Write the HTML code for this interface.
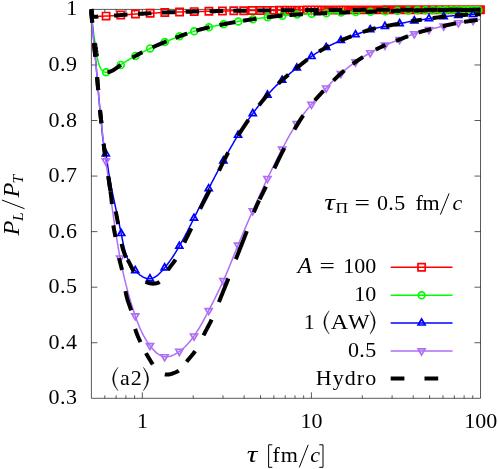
<!DOCTYPE html>
<html><head><meta charset="utf-8"><title>PL/PT</title>
<style>html,body{margin:0;padding:0;background:#fff;}body{width:498px;height:469px;overflow:hidden;font-family:"Liberation Serif",serif;}svg{display:block;will-change:transform;}</style>
</head><body>
<svg width="498" height="469" viewBox="0 0 498 469">
<rect x="0" y="0" width="498" height="469" fill="#fff"/>
<path d="M91.4,9.4H480.5V398.3H91.4ZM91.4,342.74h6M480.5,342.74h-6M91.4,287.19h6M480.5,287.19h-6M91.4,231.63h6M480.5,231.63h-6M91.4,176.07h6M480.5,176.07h-6M91.4,120.51h6M480.5,120.51h-6M91.4,64.96h6M480.5,64.96h-6M104.79,398.3v-3M104.79,9.4v3M116.11,398.3v-3M116.11,9.4v3M125.92,398.3v-3M125.92,9.4v3M134.57,398.3v-3M134.57,9.4v3M142.30,398.3v-6M142.30,9.4v6M193.21,398.3v-3M193.21,9.4v3M222.98,398.3v-3M222.98,9.4v3M244.11,398.3v-3M244.11,9.4v3M260.50,398.3v-3M260.50,9.4v3M273.89,398.3v-3M273.89,9.4v3M285.21,398.3v-3M285.21,9.4v3M295.01,398.3v-3M295.01,9.4v3M303.66,398.3v-3M303.66,9.4v3M311.40,398.3v-6M311.40,9.4v6M362.31,398.3v-3M362.31,9.4v3M392.08,398.3v-3M392.08,9.4v3M413.21,398.3v-3M413.21,9.4v3M429.60,398.3v-3M429.60,9.4v3M442.99,398.3v-3M442.99,9.4v3M454.31,398.3v-3M454.31,9.4v3M464.11,398.3v-3M464.11,9.4v3M472.76,398.3v-3M472.76,9.4v3" fill="none" stroke="#000" stroke-width="0.65"/>
<path d="M91.40,9.40 L91.61,10.05 L91.68,10.81 L91.66,11.64 L91.62,12.51 L91.60,13.39 L91.66,14.22 L91.85,14.99 L92.24,15.64 L92.83,16.16 L93.56,16.52 L94.32,16.73 L95.10,16.80 L95.90,16.77 L96.70,16.69 L97.51,16.57 L98.32,16.46 L99.12,16.37 L99.91,16.30 L100.71,16.24 L101.50,16.21 L102.29,16.18 L103.07,16.16 L103.86,16.14 L104.64,16.12 L105.43,16.10 L106.21,16.08 L107.00,16.05 L107.78,16.02 L108.57,15.98 L109.36,15.94 L110.15,15.89 L110.94,15.84 L111.73,15.78 L112.52,15.73 L113.31,15.67 L114.10,15.61 L114.89,15.54 L115.68,15.48 L116.47,15.41 L117.27,15.34 L118.06,15.28 L118.85,15.21 L119.64,15.15 L120.43,15.08 L121.22,15.02 L122.01,14.96 L122.80,14.90 L123.59,14.84 L124.38,14.78 L125.17,14.72 L125.96,14.67 L126.75,14.61 L127.54,14.56 L128.33,14.50 L129.12,14.45 L129.91,14.40 L130.70,14.35 L131.49,14.30 L132.28,14.25 L133.07,14.21 L133.86,14.16 L134.65,14.11 L135.44,14.07 L136.23,14.02 L137.02,13.98 L137.81,13.94 L138.60,13.89 L139.39,13.85 L140.18,13.81 L140.97,13.77 L141.76,13.73 L142.55,13.68 L143.34,13.64 L144.13,13.60 L144.92,13.56 L145.71,13.52 L146.50,13.47 L147.29,13.43 L148.08,13.39 L148.87,13.35 L149.66,13.30 L150.45,13.26 L151.24,13.21 L152.03,13.17 L152.83,13.12 L153.62,13.08 L154.41,13.03 L155.20,12.99 L155.99,12.94 L156.78,12.90 L157.57,12.86 L158.36,12.81 L159.15,12.77 L159.94,12.73 L160.73,12.68 L161.52,12.64 L162.31,12.60 L163.10,12.57 L163.89,12.53 L164.68,12.49 L165.47,12.46 L166.26,12.42 L167.05,12.39 L167.85,12.36 L168.64,12.33 L169.43,12.30 L170.22,12.27 L171.01,12.25 L171.80,12.22 L172.59,12.19 L173.38,12.17 L174.17,12.14 L174.97,12.12 L175.76,12.09 L176.55,12.07 L177.34,12.05 L178.13,12.03 L178.92,12.00 L179.71,11.98 L180.50,11.96 L181.30,11.93 L182.09,11.91 L182.88,11.89 L183.67,11.87 L184.46,11.84 L185.25,11.82 L186.04,11.80 L186.83,11.78 L187.63,11.76 L188.42,11.74 L189.21,11.71 L190.00,11.69 L190.79,11.67 L191.58,11.65 L192.37,11.63 L193.17,11.62 L193.96,11.60 L194.75,11.58 L195.54,11.56 L196.33,11.54 L197.12,11.53 L197.91,11.51 L198.71,11.49 L199.50,11.48 L200.29,11.46 L201.08,11.44 L201.87,11.43 L202.66,11.41 L203.45,11.39 L204.25,11.38 L205.04,11.36 L205.83,11.35 L206.62,11.33 L207.41,11.31 L208.20,11.30 L208.99,11.28 L209.79,11.26 L210.58,11.25 L211.37,11.23 L212.16,11.21 L212.95,11.20 L213.74,11.18 L214.53,11.16 L215.32,11.14 L216.12,11.13 L216.91,11.11 L217.70,11.09 L218.49,11.08 L219.28,11.06 L220.07,11.04 L220.86,11.03 L221.66,11.01 L222.45,11.00 L223.24,10.98 L224.03,10.97 L224.82,10.95 L225.61,10.94 L226.40,10.92 L227.20,10.91 L227.99,10.90 L228.78,10.88 L229.57,10.87 L230.36,10.86 L231.15,10.84 L231.95,10.83 L232.74,10.82 L233.53,10.81 L234.32,10.80 L235.11,10.79 L235.90,10.78 L236.69,10.76 L237.49,10.75 L238.28,10.74 L239.07,10.73 L239.86,10.72 L240.65,10.71 L241.44,10.70 L242.24,10.69 L243.03,10.68 L243.82,10.67 L244.61,10.66 L245.40,10.65 L246.19,10.64 L246.98,10.64 L247.78,10.63 L248.57,10.62 L249.36,10.61 L250.15,10.60 L250.94,10.59 L251.73,10.58 L252.53,10.57 L253.32,10.56 L254.11,10.55 L254.90,10.54 L255.69,10.53 L256.48,10.52 L257.27,10.52 L258.07,10.51 L258.86,10.50 L259.65,10.49 L260.44,10.48 L261.23,10.47 L262.02,10.46 L262.82,10.45 L263.61,10.44 L264.40,10.43 L265.19,10.43 L265.98,10.42 L266.77,10.41 L267.56,10.40 L268.36,10.39 L269.15,10.38 L269.94,10.37 L270.73,10.37 L271.52,10.36 L272.31,10.35 L273.11,10.34 L273.90,10.33 L274.69,10.32 L275.48,10.32 L276.27,10.31 L277.06,10.30 L277.85,10.29 L278.65,10.28 L279.44,10.28 L280.23,10.27 L281.02,10.26 L281.81,10.25 L282.60,10.24 L283.40,10.24 L284.19,10.23 L284.98,10.22 L285.77,10.22 L286.56,10.21 L287.35,10.20 L288.14,10.19 L288.94,10.19 L289.73,10.18 L290.52,10.17 L291.31,10.17 L292.10,10.16 L292.89,10.15 L293.69,10.15 L294.48,10.14 L295.27,10.13 L296.06,10.13 L296.85,10.12 L297.64,10.12 L298.43,10.11 L299.23,10.11 L300.02,10.10 L300.81,10.09 L301.60,10.09 L302.39,10.08 L303.18,10.08 L303.98,10.07 L304.77,10.07 L305.56,10.06 L306.35,10.06 L307.14,10.05 L307.93,10.05 L308.73,10.05 L309.52,10.04 L310.31,10.04 L311.10,10.03 L311.89,10.03 L312.68,10.02 L313.47,10.02 L314.27,10.02 L315.06,10.01 L315.85,10.01 L316.64,10.01 L317.43,10.00 L318.22,10.00 L319.02,9.99 L319.81,9.99 L320.60,9.99 L321.39,9.98 L322.18,9.98 L322.97,9.98 L323.77,9.98 L324.56,9.97 L325.35,9.97 L326.14,9.97 L326.93,9.96 L327.72,9.96 L328.51,9.96 L329.31,9.96 L330.10,9.95 L330.89,9.95 L331.68,9.95 L332.47,9.95 L333.26,9.94 L334.06,9.94 L334.85,9.94 L335.64,9.94 L336.43,9.93 L337.22,9.93 L338.01,9.93 L338.81,9.93 L339.60,9.93 L340.39,9.92 L341.18,9.92 L341.97,9.92 L342.76,9.92 L343.56,9.92 L344.35,9.91 L345.14,9.91 L345.93,9.91 L346.72,9.91 L347.51,9.91 L348.30,9.90 L349.10,9.90 L349.89,9.90 L350.68,9.90 L351.47,9.90 L352.26,9.89 L353.05,9.89 L353.85,9.89 L354.64,9.89 L355.43,9.89 L356.22,9.89 L357.01,9.88 L357.80,9.88 L358.60,9.88 L359.39,9.88 L360.18,9.88 L360.97,9.88 L361.76,9.87 L362.55,9.87 L363.34,9.87 L364.14,9.87 L364.93,9.87 L365.72,9.87 L366.51,9.86 L367.30,9.86 L368.09,9.86 L368.89,9.86 L369.68,9.86 L370.47,9.86 L371.26,9.85 L372.05,9.85 L372.84,9.85 L373.64,9.85 L374.43,9.85 L375.22,9.85 L376.01,9.84 L376.80,9.84 L377.59,9.84 L378.39,9.84 L379.18,9.84 L379.97,9.84 L380.76,9.83 L381.55,9.83 L382.34,9.83 L383.13,9.83 L383.93,9.83 L384.72,9.83 L385.51,9.83 L386.30,9.82 L387.09,9.82 L387.88,9.82 L388.68,9.82 L389.47,9.82 L390.26,9.82 L391.05,9.82 L391.84,9.81 L392.63,9.81 L393.43,9.81 L394.22,9.81 L395.01,9.81 L395.80,9.81 L396.59,9.81 L397.38,9.80 L398.17,9.80 L398.97,9.80 L399.76,9.80 L400.55,9.80 L401.34,9.80 L402.13,9.80 L402.92,9.80 L403.72,9.79 L404.51,9.79 L405.30,9.79 L406.09,9.79 L406.88,9.79 L407.67,9.79 L408.47,9.79 L409.26,9.78 L410.05,9.78 L410.84,9.78 L411.63,9.78 L412.42,9.78 L413.21,9.78 L414.01,9.78 L414.80,9.78 L415.59,9.78 L416.38,9.77 L417.17,9.77 L417.96,9.77 L418.76,9.77 L419.55,9.77 L420.34,9.77 L421.13,9.77 L421.92,9.77 L422.71,9.76 L423.51,9.76 L424.30,9.76 L425.09,9.76 L425.88,9.76 L426.67,9.76 L427.46,9.76 L428.26,9.76 L429.05,9.76 L429.84,9.75 L430.63,9.75 L431.42,9.75 L432.21,9.75 L433.00,9.75 L433.80,9.75 L434.59,9.75 L435.38,9.75 L436.17,9.75 L436.96,9.75 L437.75,9.74 L438.55,9.74 L439.34,9.74 L440.13,9.74 L440.92,9.74 L441.71,9.74 L442.50,9.74 L443.30,9.74 L444.09,9.74 L444.88,9.74 L445.67,9.73 L446.46,9.73 L447.25,9.73 L448.04,9.73 L448.84,9.73 L449.63,9.73 L450.42,9.73 L451.21,9.73 L452.00,9.73 L452.79,9.73 L453.59,9.73 L454.38,9.73 L455.17,9.72 L455.96,9.72 L456.75,9.72 L457.54,9.72 L458.34,9.72 L459.13,9.72 L459.92,9.72 L460.71,9.72 L461.50,9.72 L462.29,9.72 L463.08,9.72 L463.88,9.72 L464.67,9.71 L465.46,9.71 L466.25,9.71 L467.04,9.71 L467.83,9.71 L468.63,9.71 L469.42,9.71 L470.21,9.71 L471.00,9.71 L471.79,9.71 L472.58,9.71 L473.38,9.71 L474.17,9.71 L474.96,9.70 L475.75,9.70 L476.54,9.70 L477.33,9.70 L478.13,9.70 L478.92,9.70 L479.71,9.70 L480.50,9.70" fill="none" stroke="#ff0000" stroke-width="1.5"/>
<path d="M102.49,12.49h7.2v7.2h-7.2zM117.18,11.45h7.2v7.2h-7.2zM131.86,10.47h7.2v7.2h-7.2zM146.55,9.67h7.2v7.2h-7.2zM161.24,8.88h7.2v7.2h-7.2zM175.93,8.38h7.2v7.2h-7.2zM190.61,7.99h7.2v7.2h-7.2zM205.30,7.68h7.2v7.2h-7.2zM218.81,7.40h7.2v7.2h-7.2zM230.21,7.21h7.2v7.2h-7.2zM240.08,7.08h7.2v7.2h-7.2zM248.78,6.97h7.2v7.2h-7.2zM256.55,6.88h7.2v7.2h-7.2zM263.58,6.80h7.2v7.2h-7.2zM270.00,6.74h7.2v7.2h-7.2zM275.90,6.68h7.2v7.2h-7.2zM281.36,6.62h7.2v7.2h-7.2zM286.44,6.58h7.2v7.2h-7.2zM291.20,6.54h7.2v7.2h-7.2zM295.66,6.51h7.2v7.2h-7.2zM299.87,6.48h7.2v7.2h-7.2zM303.85,6.45h7.2v7.2h-7.2zM307.63,6.43h7.2v7.2h-7.2zM311.22,6.41h7.2v7.2h-7.2zM314.64,6.40h7.2v7.2h-7.2zM317.92,6.38h7.2v7.2h-7.2zM321.05,6.37h7.2v7.2h-7.2zM324.05,6.36h7.2v7.2h-7.2zM326.94,6.35h7.2v7.2h-7.2zM329.71,6.34h7.2v7.2h-7.2zM332.39,6.34h7.2v7.2h-7.2zM334.97,6.33h7.2v7.2h-7.2zM337.46,6.32h7.2v7.2h-7.2zM339.88,6.32h7.2v7.2h-7.2zM342.21,6.31h7.2v7.2h-7.2zM344.47,6.30h7.2v7.2h-7.2zM346.67,6.30h7.2v7.2h-7.2zM348.80,6.29h7.2v7.2h-7.2zM350.87,6.29h7.2v7.2h-7.2zM352.89,6.29h7.2v7.2h-7.2zM354.85,6.28h7.2v7.2h-7.2zM356.76,6.28h7.2v7.2h-7.2zM358.62,6.27h7.2v7.2h-7.2zM360.43,6.27h7.2v7.2h-7.2zM362.21,6.26h7.2v7.2h-7.2zM363.94,6.26h7.2v7.2h-7.2zM365.63,6.26h7.2v7.2h-7.2zM367.28,6.25h7.2v7.2h-7.2zM368.89,6.25h7.2v7.2h-7.2zM370.48,6.25h7.2v7.2h-7.2zM372.02,6.24h7.2v7.2h-7.2zM373.54,6.24h7.2v7.2h-7.2zM375.02,6.24h7.2v7.2h-7.2zM376.48,6.24h7.2v7.2h-7.2zM377.91,6.23h7.2v7.2h-7.2zM379.31,6.23h7.2v7.2h-7.2zM380.68,6.23h7.2v7.2h-7.2zM382.03,6.23h7.2v7.2h-7.2zM383.35,6.22h7.2v7.2h-7.2zM384.65,6.22h7.2v7.2h-7.2zM385.93,6.22h7.2v7.2h-7.2zM387.19,6.22h7.2v7.2h-7.2zM388.42,6.21h7.2v7.2h-7.2zM389.64,6.21h7.2v7.2h-7.2zM390.83,6.21h7.2v7.2h-7.2zM392.01,6.21h7.2v7.2h-7.2zM393.17,6.21h7.2v7.2h-7.2zM394.31,6.20h7.2v7.2h-7.2zM395.43,6.20h7.2v7.2h-7.2zM396.53,6.20h7.2v7.2h-7.2zM397.62,6.20h7.2v7.2h-7.2zM398.70,6.20h7.2v7.2h-7.2zM399.75,6.19h7.2v7.2h-7.2zM400.80,6.19h7.2v7.2h-7.2zM401.82,6.19h7.2v7.2h-7.2zM402.84,6.19h7.2v7.2h-7.2zM403.84,6.19h7.2v7.2h-7.2zM404.82,6.19h7.2v7.2h-7.2zM405.80,6.18h7.2v7.2h-7.2zM406.76,6.18h7.2v7.2h-7.2zM407.71,6.18h7.2v7.2h-7.2zM408.64,6.18h7.2v7.2h-7.2zM409.57,6.18h7.2v7.2h-7.2zM410.48,6.18h7.2v7.2h-7.2zM411.38,6.18h7.2v7.2h-7.2zM412.27,6.17h7.2v7.2h-7.2zM413.15,6.17h7.2v7.2h-7.2zM414.02,6.17h7.2v7.2h-7.2zM414.88,6.17h7.2v7.2h-7.2zM415.73,6.17h7.2v7.2h-7.2zM416.57,6.17h7.2v7.2h-7.2zM417.40,6.17h7.2v7.2h-7.2zM418.22,6.17h7.2v7.2h-7.2zM419.03,6.16h7.2v7.2h-7.2zM419.84,6.16h7.2v7.2h-7.2zM420.63,6.16h7.2v7.2h-7.2zM421.42,6.16h7.2v7.2h-7.2zM422.19,6.16h7.2v7.2h-7.2zM422.96,6.16h7.2v7.2h-7.2zM423.72,6.16h7.2v7.2h-7.2zM424.48,6.16h7.2v7.2h-7.2zM425.22,6.16h7.2v7.2h-7.2zM425.96,6.16h7.2v7.2h-7.2zM426.69,6.15h7.2v7.2h-7.2zM427.42,6.15h7.2v7.2h-7.2zM428.13,6.15h7.2v7.2h-7.2zM428.84,6.15h7.2v7.2h-7.2zM429.55,6.15h7.2v7.2h-7.2zM430.24,6.15h7.2v7.2h-7.2zM430.93,6.15h7.2v7.2h-7.2zM431.62,6.15h7.2v7.2h-7.2zM432.29,6.15h7.2v7.2h-7.2zM432.96,6.15h7.2v7.2h-7.2zM433.63,6.15h7.2v7.2h-7.2zM434.29,6.14h7.2v7.2h-7.2zM434.94,6.14h7.2v7.2h-7.2zM435.59,6.14h7.2v7.2h-7.2zM436.23,6.14h7.2v7.2h-7.2zM436.87,6.14h7.2v7.2h-7.2zM437.50,6.14h7.2v7.2h-7.2zM438.12,6.14h7.2v7.2h-7.2zM438.74,6.14h7.2v7.2h-7.2zM439.36,6.14h7.2v7.2h-7.2zM439.97,6.14h7.2v7.2h-7.2zM440.57,6.14h7.2v7.2h-7.2zM441.17,6.14h7.2v7.2h-7.2zM441.77,6.14h7.2v7.2h-7.2zM442.36,6.13h7.2v7.2h-7.2zM442.94,6.13h7.2v7.2h-7.2zM443.52,6.13h7.2v7.2h-7.2zM444.10,6.13h7.2v7.2h-7.2zM444.67,6.13h7.2v7.2h-7.2zM445.24,6.13h7.2v7.2h-7.2zM445.80,6.13h7.2v7.2h-7.2zM446.36,6.13h7.2v7.2h-7.2zM446.91,6.13h7.2v7.2h-7.2zM447.46,6.13h7.2v7.2h-7.2zM448.01,6.13h7.2v7.2h-7.2zM448.55,6.13h7.2v7.2h-7.2zM449.09,6.13h7.2v7.2h-7.2zM449.62,6.13h7.2v7.2h-7.2zM450.16,6.13h7.2v7.2h-7.2zM450.68,6.13h7.2v7.2h-7.2zM451.20,6.12h7.2v7.2h-7.2zM451.72,6.12h7.2v7.2h-7.2zM452.24,6.12h7.2v7.2h-7.2zM452.75,6.12h7.2v7.2h-7.2zM453.26,6.12h7.2v7.2h-7.2zM453.76,6.12h7.2v7.2h-7.2zM454.27,6.12h7.2v7.2h-7.2zM454.76,6.12h7.2v7.2h-7.2zM455.26,6.12h7.2v7.2h-7.2zM455.75,6.12h7.2v7.2h-7.2zM456.24,6.12h7.2v7.2h-7.2zM456.72,6.12h7.2v7.2h-7.2zM457.20,6.12h7.2v7.2h-7.2zM457.68,6.12h7.2v7.2h-7.2zM458.16,6.12h7.2v7.2h-7.2zM458.63,6.12h7.2v7.2h-7.2zM459.10,6.12h7.2v7.2h-7.2zM459.57,6.12h7.2v7.2h-7.2zM460.03,6.12h7.2v7.2h-7.2zM460.49,6.12h7.2v7.2h-7.2zM460.95,6.11h7.2v7.2h-7.2zM461.40,6.11h7.2v7.2h-7.2zM461.86,6.11h7.2v7.2h-7.2zM462.31,6.11h7.2v7.2h-7.2zM462.75,6.11h7.2v7.2h-7.2zM463.20,6.11h7.2v7.2h-7.2zM463.64,6.11h7.2v7.2h-7.2zM464.08,6.11h7.2v7.2h-7.2zM464.51,6.11h7.2v7.2h-7.2zM464.94,6.11h7.2v7.2h-7.2zM465.38,6.11h7.2v7.2h-7.2zM465.80,6.11h7.2v7.2h-7.2zM466.23,6.11h7.2v7.2h-7.2zM466.65,6.11h7.2v7.2h-7.2zM467.07,6.11h7.2v7.2h-7.2zM467.49,6.11h7.2v7.2h-7.2zM467.91,6.11h7.2v7.2h-7.2zM468.32,6.11h7.2v7.2h-7.2zM468.73,6.11h7.2v7.2h-7.2zM469.14,6.11h7.2v7.2h-7.2zM469.55,6.11h7.2v7.2h-7.2zM469.96,6.11h7.2v7.2h-7.2zM470.36,6.11h7.2v7.2h-7.2zM470.76,6.11h7.2v7.2h-7.2zM471.16,6.10h7.2v7.2h-7.2zM471.55,6.10h7.2v7.2h-7.2zM471.95,6.10h7.2v7.2h-7.2zM472.34,6.10h7.2v7.2h-7.2zM472.73,6.10h7.2v7.2h-7.2zM473.11,6.10h7.2v7.2h-7.2zM473.50,6.10h7.2v7.2h-7.2zM473.88,6.10h7.2v7.2h-7.2zM474.27,6.10h7.2v7.2h-7.2zM474.65,6.10h7.2v7.2h-7.2zM475.02,6.10h7.2v7.2h-7.2zM475.40,6.10h7.2v7.2h-7.2zM475.77,6.10h7.2v7.2h-7.2zM476.14,6.10h7.2v7.2h-7.2zM476.51,6.10h7.2v7.2h-7.2zM476.88,6.10h7.2v7.2h-7.2z" fill="none" stroke="#ff0000" stroke-width="1.7"/>
<path d="M91.40,9.40 L91.40,10.31 L91.41,11.22 L91.43,12.13 L91.46,13.03 L91.50,13.94 L91.54,14.84 L91.59,15.75 L91.65,16.65 L91.72,17.56 L91.79,18.46 L91.86,19.36 L91.95,20.26 L92.04,21.17 L92.13,22.07 L92.23,22.97 L92.33,23.87 L92.44,24.77 L92.55,25.66 L92.66,26.56 L92.78,27.46 L92.90,28.36 L93.02,29.26 L93.15,30.16 L93.28,31.05 L93.41,31.95 L93.54,32.85 L93.67,33.74 L93.80,34.64 L93.93,35.54 L94.06,36.43 L94.20,37.33 L94.33,38.22 L94.46,39.12 L94.59,40.02 L94.72,40.91 L94.85,41.81 L94.98,42.71 L95.11,43.60 L95.24,44.50 L95.37,45.40 L95.50,46.29 L95.63,47.19 L95.76,48.09 L95.88,48.99 L96.01,49.89 L96.14,50.78 L96.28,51.68 L96.41,52.58 L96.56,53.47 L96.70,54.36 L96.85,55.26 L97.01,56.15 L97.17,57.03 L97.34,57.92 L97.53,58.80 L97.72,59.69 L97.92,60.57 L98.14,61.44 L98.38,62.32 L98.63,63.19 L98.90,64.06 L99.19,64.93 L99.50,65.80 L99.83,66.66 L100.20,67.51 L100.61,68.33 L101.08,69.11 L101.60,69.85 L102.21,70.53 L102.90,71.13 L103.67,71.63 L104.50,71.99 L105.39,72.18 L106.29,72.24 L107.17,72.21 L108.04,72.11 L108.90,71.95 L109.76,71.71 L110.60,71.42 L111.43,71.08 L112.25,70.68 L113.07,70.25 L113.88,69.77 L114.68,69.27 L115.47,68.74 L116.27,68.19 L117.05,67.63 L117.83,67.05 L118.61,66.48 L119.38,65.90 L120.16,65.33 L120.93,64.77 L121.70,64.23 L122.47,63.70 L123.23,63.18 L124.00,62.67 L124.77,62.17 L125.53,61.67 L126.30,61.19 L127.06,60.72 L127.83,60.25 L128.60,59.79 L129.37,59.33 L130.14,58.88 L130.91,58.44 L131.68,58.00 L132.45,57.56 L133.23,57.12 L134.01,56.69 L134.79,56.26 L135.58,55.83 L136.37,55.40 L137.16,54.97 L137.95,54.54 L138.75,54.12 L139.54,53.69 L140.35,53.27 L141.15,52.85 L141.95,52.43 L142.76,52.01 L143.57,51.60 L144.38,51.19 L145.20,50.78 L146.01,50.38 L146.83,49.98 L147.65,49.58 L148.47,49.18 L149.29,48.79 L150.11,48.41 L150.94,48.02 L151.76,47.65 L152.59,47.27 L153.42,46.90 L154.24,46.53 L155.07,46.17 L155.90,45.80 L156.73,45.44 L157.57,45.09 L158.40,44.73 L159.23,44.38 L160.07,44.03 L160.90,43.68 L161.74,43.33 L162.58,42.99 L163.41,42.64 L164.25,42.30 L165.09,41.96 L165.93,41.62 L166.77,41.28 L167.61,40.94 L168.45,40.60 L169.29,40.26 L170.13,39.93 L170.97,39.59 L171.82,39.26 L172.66,38.93 L173.50,38.60 L174.35,38.27 L175.19,37.94 L176.04,37.62 L176.89,37.30 L177.73,36.98 L178.58,36.66 L179.43,36.34 L180.28,36.02 L181.13,35.71 L181.98,35.40 L182.84,35.09 L183.69,34.79 L184.54,34.48 L185.40,34.18 L186.25,33.88 L187.11,33.59 L187.97,33.30 L188.83,33.01 L189.69,32.72 L190.55,32.44 L191.41,32.16 L192.27,31.88 L193.14,31.61 L194.00,31.34 L194.87,31.07 L195.73,30.81 L196.60,30.55 L197.47,30.30 L198.34,30.04 L199.21,29.80 L200.09,29.55 L200.96,29.31 L201.84,29.08 L202.71,28.84 L203.59,28.61 L204.47,28.39 L205.34,28.16 L206.22,27.94 L207.10,27.73 L207.98,27.52 L208.87,27.31 L209.75,27.10 L210.63,26.90 L211.52,26.70 L212.40,26.51 L213.29,26.32 L214.17,26.13 L215.06,25.94 L215.95,25.75 L216.83,25.57 L217.72,25.39 L218.61,25.21 L219.50,25.03 L220.39,24.85 L221.28,24.68 L222.16,24.50 L223.05,24.33 L223.94,24.15 L224.83,23.98 L225.72,23.81 L226.61,23.64 L227.50,23.47 L228.39,23.30 L229.28,23.13 L230.17,22.96 L231.06,22.79 L231.95,22.63 L232.85,22.46 L233.74,22.30 L234.63,22.14 L235.52,21.98 L236.41,21.82 L237.30,21.67 L238.20,21.51 L239.09,21.36 L239.98,21.21 L240.88,21.06 L241.77,20.92 L242.67,20.77 L243.56,20.63 L244.46,20.49 L245.35,20.35 L246.25,20.21 L247.14,20.07 L248.04,19.93 L248.93,19.80 L249.83,19.66 L250.73,19.53 L251.62,19.40 L252.52,19.27 L253.42,19.14 L254.31,19.01 L255.21,18.88 L256.11,18.76 L257.00,18.63 L257.90,18.51 L258.80,18.38 L259.70,18.26 L260.60,18.14 L261.49,18.02 L262.39,17.90 L263.29,17.79 L264.19,17.67 L265.09,17.55 L265.99,17.44 L266.89,17.33 L267.78,17.22 L268.68,17.10 L269.58,17.00 L270.48,16.89 L271.38,16.78 L272.28,16.68 L273.18,16.57 L274.08,16.47 L274.98,16.37 L275.89,16.28 L276.79,16.18 L277.69,16.09 L278.59,16.00 L279.49,15.91 L280.39,15.82 L281.29,15.74 L282.20,15.66 L283.10,15.58 L284.00,15.50 L284.91,15.42 L285.81,15.35 L286.71,15.28 L287.62,15.21 L288.52,15.14 L289.42,15.08 L290.33,15.01 L291.23,14.95 L292.13,14.89 L293.04,14.83 L293.94,14.77 L294.85,14.71 L295.75,14.65 L296.65,14.59 L297.56,14.53 L298.46,14.48 L299.37,14.42 L300.27,14.36 L301.18,14.31 L302.08,14.26 L302.99,14.20 L303.89,14.15 L304.79,14.10 L305.70,14.05 L306.60,14.00 L307.51,13.95 L308.41,13.91 L309.32,13.86 L310.22,13.82 L311.13,13.78 L312.03,13.73 L312.94,13.69 L313.84,13.66 L314.75,13.62 L315.65,13.58 L316.56,13.55 L317.47,13.51 L318.37,13.48 L319.28,13.44 L320.18,13.41 L321.09,13.37 L321.99,13.34 L322.90,13.31 L323.80,13.27 L324.71,13.24 L325.61,13.20 L326.52,13.17 L327.42,13.13 L328.33,13.09 L329.24,13.06 L330.14,13.02 L331.05,12.98 L331.95,12.94 L332.86,12.91 L333.76,12.87 L334.67,12.83 L335.57,12.79 L336.48,12.76 L337.38,12.72 L338.29,12.68 L339.19,12.64 L340.10,12.61 L341.00,12.57 L341.91,12.54 L342.81,12.50 L343.72,12.47 L344.63,12.44 L345.53,12.40 L346.44,12.37 L347.34,12.34 L348.25,12.31 L349.15,12.28 L350.06,12.25 L350.96,12.22 L351.87,12.19 L352.78,12.16 L353.68,12.14 L354.59,12.11 L355.49,12.08 L356.40,12.06 L357.30,12.03 L358.21,12.01 L359.12,11.99 L360.02,11.96 L360.93,11.94 L361.83,11.92 L362.74,11.89 L363.64,11.87 L364.55,11.84 L365.46,11.82 L366.36,11.80 L367.27,11.77 L368.17,11.74 L369.08,11.72 L369.98,11.69 L370.89,11.66 L371.80,11.63 L372.70,11.61 L373.61,11.58 L374.51,11.54 L375.42,11.51 L376.32,11.48 L377.23,11.45 L378.13,11.42 L379.04,11.39 L379.94,11.35 L380.85,11.32 L381.76,11.29 L382.66,11.26 L383.57,11.23 L384.47,11.19 L385.38,11.16 L386.28,11.13 L387.19,11.10 L388.09,11.07 L389.00,11.04 L389.91,11.01 L390.81,10.98 L391.72,10.95 L392.62,10.93 L393.53,10.90 L394.43,10.87 L395.34,10.84 L396.24,10.82 L397.15,10.79 L398.06,10.77 L398.96,10.74 L399.87,10.72 L400.77,10.70 L401.68,10.67 L402.58,10.65 L403.49,10.63 L404.40,10.61 L405.30,10.58 L406.21,10.56 L407.11,10.54 L408.02,10.52 L408.93,10.50 L409.83,10.48 L410.74,10.47 L411.64,10.45 L412.55,10.43 L413.46,10.41 L414.36,10.40 L415.27,10.38 L416.17,10.36 L417.08,10.35 L417.98,10.33 L418.89,10.32 L419.80,10.30 L420.70,10.29 L421.61,10.28 L422.51,10.26 L423.42,10.25 L424.33,10.24 L425.23,10.22 L426.14,10.21 L427.04,10.20 L427.95,10.19 L428.86,10.18 L429.76,10.17 L430.67,10.16 L431.57,10.15 L432.48,10.14 L433.39,10.13 L434.29,10.12 L435.20,10.11 L436.10,10.10 L437.01,10.09 L437.92,10.08 L438.82,10.08 L439.73,10.07 L440.63,10.06 L441.54,10.06 L442.45,10.05 L443.35,10.04 L444.26,10.04 L445.16,10.03 L446.07,10.02 L446.98,10.02 L447.88,10.01 L448.79,10.01 L449.69,10.00 L450.60,10.00 L451.51,9.99 L452.41,9.99 L453.32,9.98 L454.22,9.98 L455.13,9.97 L456.04,9.97 L456.94,9.97 L457.85,9.96 L458.76,9.96 L459.66,9.96 L460.57,9.95 L461.47,9.95 L462.38,9.95 L463.29,9.94 L464.19,9.94 L465.10,9.94 L466.00,9.94 L466.91,9.93 L467.82,9.93 L468.72,9.93 L469.63,9.93 L470.53,9.92 L471.44,9.92 L472.35,9.92 L473.25,9.92 L474.16,9.91 L475.06,9.91 L475.97,9.91 L476.88,9.91 L477.78,9.91 L478.69,9.90 L479.59,9.90 L480.50,9.90" fill="none" stroke="#00ff00" stroke-width="1.5"/>
<circle cx="106.09" cy="72.22" r="3.4" fill="none" stroke="#00ff00" stroke-width="1.7"/>
<circle cx="120.78" cy="64.88" r="3.4" fill="none" stroke="#00ff00" stroke-width="1.7"/>
<circle cx="135.46" cy="55.89" r="3.4" fill="none" stroke="#00ff00" stroke-width="1.7"/>
<circle cx="150.15" cy="48.39" r="3.4" fill="none" stroke="#00ff00" stroke-width="1.7"/>
<circle cx="164.84" cy="42.06" r="3.4" fill="none" stroke="#00ff00" stroke-width="1.7"/>
<circle cx="179.53" cy="36.30" r="3.4" fill="none" stroke="#00ff00" stroke-width="1.7"/>
<circle cx="194.21" cy="31.27" r="3.4" fill="none" stroke="#00ff00" stroke-width="1.7"/>
<circle cx="208.90" cy="27.30" r="3.4" fill="none" stroke="#00ff00" stroke-width="1.7"/>
<circle cx="223.59" cy="24.22" r="3.4" fill="none" stroke="#00ff00" stroke-width="1.7"/>
<circle cx="238.28" cy="21.50" r="3.4" fill="none" stroke="#00ff00" stroke-width="1.7"/>
<circle cx="252.96" cy="19.20" r="3.4" fill="none" stroke="#00ff00" stroke-width="1.7"/>
<circle cx="267.65" cy="17.23" r="3.4" fill="none" stroke="#00ff00" stroke-width="1.7"/>
<circle cx="282.34" cy="15.64" r="3.4" fill="none" stroke="#00ff00" stroke-width="1.7"/>
<circle cx="297.03" cy="14.57" r="3.4" fill="none" stroke="#00ff00" stroke-width="1.7"/>
<circle cx="311.72" cy="13.75" r="3.4" fill="none" stroke="#00ff00" stroke-width="1.7"/>
<circle cx="326.40" cy="13.17" r="3.4" fill="none" stroke="#00ff00" stroke-width="1.7"/>
<circle cx="341.09" cy="12.57" r="3.4" fill="none" stroke="#00ff00" stroke-width="1.7"/>
<circle cx="355.78" cy="12.08" r="3.4" fill="none" stroke="#00ff00" stroke-width="1.7"/>
<circle cx="370.47" cy="11.68" r="3.4" fill="none" stroke="#00ff00" stroke-width="1.7"/>
<circle cx="385.15" cy="11.17" r="3.4" fill="none" stroke="#00ff00" stroke-width="1.7"/>
<circle cx="397.50" cy="10.78" r="3.4" fill="none" stroke="#00ff00" stroke-width="1.7"/>
<circle cx="408.07" cy="10.52" r="3.4" fill="none" stroke="#00ff00" stroke-width="1.7"/>
<circle cx="417.31" cy="10.34" r="3.4" fill="none" stroke="#00ff00" stroke-width="1.7"/>
<circle cx="425.52" cy="10.22" r="3.4" fill="none" stroke="#00ff00" stroke-width="1.7"/>
<circle cx="432.90" cy="10.13" r="3.4" fill="none" stroke="#00ff00" stroke-width="1.7"/>
<circle cx="439.60" cy="10.07" r="3.4" fill="none" stroke="#00ff00" stroke-width="1.7"/>
<circle cx="445.75" cy="10.03" r="3.4" fill="none" stroke="#00ff00" stroke-width="1.7"/>
<circle cx="451.42" cy="9.99" r="3.4" fill="none" stroke="#00ff00" stroke-width="1.7"/>
<circle cx="456.68" cy="9.97" r="3.4" fill="none" stroke="#00ff00" stroke-width="1.7"/>
<circle cx="461.59" cy="9.95" r="3.4" fill="none" stroke="#00ff00" stroke-width="1.7"/>
<circle cx="466.19" cy="9.94" r="3.4" fill="none" stroke="#00ff00" stroke-width="1.7"/>
<circle cx="470.52" cy="9.92" r="3.4" fill="none" stroke="#00ff00" stroke-width="1.7"/>
<circle cx="474.61" cy="9.91" r="3.4" fill="none" stroke="#00ff00" stroke-width="1.7"/>
<circle cx="478.49" cy="9.90" r="3.4" fill="none" stroke="#00ff00" stroke-width="1.7"/>
<path d="M91.40,9.40 L91.48,10.88 L91.56,12.35 L91.65,13.83 L91.74,15.30 L91.83,16.78 L91.92,18.26 L92.02,19.73 L92.13,21.21 L92.23,22.68 L92.34,24.15 L92.45,25.63 L92.57,27.10 L92.68,28.58 L92.80,30.05 L92.93,31.52 L93.05,33.00 L93.18,34.47 L93.31,35.94 L93.44,37.42 L93.57,38.89 L93.71,40.36 L93.84,41.83 L93.98,43.30 L94.12,44.78 L94.26,46.25 L94.41,47.72 L94.55,49.19 L94.69,50.66 L94.84,52.13 L94.98,53.61 L95.12,55.08 L95.26,56.55 L95.40,58.02 L95.54,59.49 L95.68,60.96 L95.81,62.44 L95.94,63.91 L96.07,65.38 L96.20,66.85 L96.33,68.33 L96.46,69.80 L96.59,71.27 L96.72,72.75 L96.85,74.22 L96.97,75.69 L97.10,77.16 L97.23,78.64 L97.36,80.11 L97.48,81.58 L97.61,83.06 L97.74,84.53 L97.86,86.00 L97.99,87.48 L98.11,88.95 L98.24,90.42 L98.36,91.90 L98.48,93.37 L98.60,94.84 L98.73,96.32 L98.85,97.79 L98.98,99.26 L99.11,100.74 L99.24,102.21 L99.38,103.68 L99.51,105.15 L99.66,106.62 L99.80,108.09 L99.95,109.57 L100.11,111.03 L100.27,112.50 L100.44,113.97 L100.60,115.44 L100.76,116.91 L100.93,118.38 L101.08,119.85 L101.24,121.32 L101.38,122.79 L101.52,124.27 L101.65,125.74 L101.77,127.22 L101.89,128.69 L102.01,130.17 L102.14,131.65 L102.27,133.12 L102.41,134.59 L102.57,136.06 L102.73,137.53 L102.92,139.00 L103.12,140.46 L103.34,141.92 L103.59,143.38 L103.86,144.83 L104.16,146.28 L104.47,147.72 L104.79,149.16 L105.12,150.61 L105.43,152.05 L105.74,153.50 L106.02,154.95 L106.29,156.40 L106.54,157.86 L106.77,159.32 L106.99,160.78 L107.21,162.24 L107.41,163.71 L107.62,165.17 L107.82,166.64 L108.03,168.10 L108.24,169.57 L108.45,171.03 L108.68,172.49 L108.91,173.95 L109.16,175.41 L109.40,176.87 L109.66,178.32 L109.92,179.78 L110.19,181.23 L110.46,182.69 L110.73,184.14 L111.02,185.59 L111.30,187.04 L111.59,188.49 L111.88,189.94 L112.18,191.39 L112.47,192.84 L112.77,194.29 L113.07,195.74 L113.38,197.18 L113.68,198.63 L113.99,200.08 L114.30,201.53 L114.60,202.97 L114.91,204.42 L115.23,205.86 L115.54,207.31 L115.85,208.75 L116.17,210.20 L116.48,211.64 L116.80,213.09 L117.11,214.53 L117.43,215.98 L117.74,217.42 L118.06,218.86 L118.38,220.31 L118.69,221.75 L119.01,223.19 L119.32,224.64 L119.64,226.08 L119.95,227.52 L120.26,228.97 L120.56,230.42 L120.87,231.86 L121.16,233.31 L121.45,234.77 L121.74,236.22 L122.02,237.68 L122.31,239.14 L122.60,240.60 L122.89,242.06 L123.20,243.51 L123.51,244.96 L123.84,246.41 L124.19,247.85 L124.56,249.29 L124.95,250.72 L125.36,252.14 L125.80,253.55 L126.28,254.95 L126.78,256.34 L127.33,257.72 L127.91,259.08 L128.53,260.44 L129.20,261.77 L129.91,263.09 L130.67,264.40 L131.49,265.69 L132.36,266.95 L133.29,268.20 L134.27,269.43 L135.32,270.64 L136.44,271.82 L137.61,272.96 L138.83,274.04 L140.09,275.06 L141.39,275.98 L142.71,276.80 L144.05,277.51 L145.41,278.07 L146.77,278.49 L148.12,278.74 L149.47,278.81 L150.80,278.69 L152.11,278.37 L153.40,277.88 L154.67,277.24 L155.91,276.47 L157.13,275.57 L158.32,274.57 L159.49,273.49 L160.63,272.34 L161.75,271.15 L162.83,269.92 L163.89,268.67 L164.91,267.43 L165.91,266.20 L166.88,264.97 L167.82,263.75 L168.73,262.53 L169.62,261.32 L170.49,260.11 L171.34,258.90 L172.17,257.70 L172.98,256.49 L173.78,255.28 L174.56,254.07 L175.33,252.86 L176.08,251.64 L176.83,250.42 L177.56,249.19 L178.29,247.96 L179.02,246.72 L179.74,245.47 L180.45,244.21 L181.16,242.94 L181.87,241.66 L182.58,240.38 L183.28,239.09 L183.98,237.80 L184.67,236.50 L185.37,235.19 L186.06,233.88 L186.74,232.56 L187.43,231.24 L188.11,229.92 L188.79,228.59 L189.46,227.26 L190.14,225.93 L190.81,224.60 L191.48,223.26 L192.14,221.93 L192.81,220.59 L193.47,219.26 L194.14,217.93 L194.80,216.59 L195.45,215.26 L196.11,213.93 L196.77,212.60 L197.42,211.27 L198.08,209.94 L198.73,208.61 L199.39,207.29 L200.04,205.96 L200.69,204.63 L201.35,203.31 L202.00,201.99 L202.65,200.66 L203.31,199.34 L203.97,198.02 L204.62,196.70 L205.28,195.38 L205.94,194.06 L206.60,192.75 L207.27,191.43 L207.93,190.11 L208.60,188.80 L209.27,187.48 L209.94,186.17 L210.62,184.86 L211.30,183.54 L211.98,182.23 L212.66,180.92 L213.34,179.61 L214.02,178.30 L214.71,176.99 L215.40,175.68 L216.09,174.38 L216.79,173.07 L217.48,171.76 L218.18,170.46 L218.87,169.15 L219.57,167.85 L220.27,166.54 L220.98,165.24 L221.68,163.94 L222.38,162.64 L223.09,161.34 L223.80,160.04 L224.50,158.74 L225.21,157.44 L225.93,156.14 L226.64,154.85 L227.36,153.55 L228.07,152.26 L228.80,150.97 L229.52,149.68 L230.25,148.39 L230.98,147.11 L231.72,145.83 L232.45,144.55 L233.20,143.27 L233.95,141.99 L234.70,140.72 L235.46,139.45 L236.22,138.19 L236.99,136.93 L237.77,135.67 L238.55,134.42 L239.34,133.17 L240.14,131.92 L240.94,130.68 L241.74,129.44 L242.55,128.20 L243.37,126.97 L244.20,125.74 L245.02,124.52 L245.86,123.30 L246.70,122.08 L247.54,120.86 L248.39,119.65 L249.24,118.44 L250.10,117.24 L250.96,116.04 L251.83,114.84 L252.70,113.64 L253.57,112.45 L254.45,111.26 L255.33,110.07 L256.22,108.89 L257.11,107.71 L258.01,106.53 L258.92,105.36 L259.83,104.19 L260.74,103.03 L261.67,101.88 L262.60,100.73 L263.53,99.59 L264.48,98.45 L265.43,97.32 L266.39,96.20 L267.37,95.08 L268.34,93.97 L269.33,92.87 L270.33,91.78 L271.34,90.70 L272.35,89.62 L273.38,88.55 L274.41,87.49 L275.45,86.44 L276.50,85.40 L277.56,84.37 L278.63,83.35 L279.71,82.33 L280.80,81.33 L281.89,80.33 L282.99,79.35 L284.11,78.38 L285.23,77.41 L286.35,76.45 L287.48,75.50 L288.62,74.56 L289.76,73.62 L290.91,72.68 L292.05,71.75 L293.20,70.82 L294.36,69.89 L295.51,68.96 L296.66,68.04 L297.81,67.11 L298.96,66.18 L300.11,65.24 L301.26,64.31 L302.41,63.39 L303.57,62.47 L304.73,61.55 L305.89,60.64 L307.06,59.73 L308.24,58.84 L309.43,57.96 L310.62,57.09 L311.82,56.23 L313.04,55.38 L314.26,54.55 L315.50,53.74 L316.74,52.94 L317.99,52.15 L319.25,51.37 L320.52,50.61 L321.79,49.86 L323.08,49.12 L324.37,48.40 L325.67,47.69 L326.97,47.00 L328.29,46.31 L329.60,45.64 L330.93,44.98 L332.26,44.33 L333.60,43.70 L334.94,43.08 L336.28,42.46 L337.63,41.86 L338.99,41.27 L340.35,40.69 L341.71,40.12 L343.08,39.56 L344.45,39.01 L345.82,38.46 L347.20,37.92 L348.58,37.39 L349.96,36.86 L351.34,36.33 L352.72,35.81 L354.11,35.29 L355.49,34.76 L356.88,34.24 L358.26,33.72 L359.65,33.20 L361.04,32.69 L362.43,32.19 L363.82,31.70 L365.22,31.21 L366.62,30.75 L368.03,30.30 L369.44,29.86 L370.86,29.45 L372.29,29.06 L373.72,28.69 L375.15,28.34 L376.59,28.00 L378.03,27.67 L379.48,27.36 L380.93,27.06 L382.38,26.77 L383.83,26.49 L385.29,26.21 L386.74,25.93 L388.20,25.67 L389.65,25.40 L391.10,25.13 L392.56,24.87 L394.01,24.61 L395.47,24.34 L396.92,24.08 L398.37,23.81 L399.83,23.53 L401.28,23.25 L402.73,22.97 L404.18,22.69 L405.63,22.41 L407.08,22.12 L408.54,21.84 L409.99,21.57 L411.44,21.30 L412.90,21.04 L414.36,20.79 L415.81,20.55 L417.27,20.32 L418.74,20.10 L420.20,19.88 L421.66,19.67 L423.13,19.47 L424.59,19.27 L426.06,19.06 L427.52,18.86 L428.99,18.66 L430.45,18.45 L431.91,18.25 L433.38,18.04 L434.84,17.84 L436.31,17.63 L437.77,17.43 L439.24,17.23 L440.70,17.04 L442.17,16.85 L443.64,16.67 L445.10,16.50 L446.57,16.34 L448.04,16.18 L449.51,16.03 L450.99,15.89 L452.46,15.75 L453.93,15.63 L455.41,15.51 L456.88,15.40 L458.36,15.29 L459.83,15.19 L461.31,15.10 L462.78,15.01 L464.26,14.93 L465.73,14.85 L467.21,14.77 L468.69,14.70 L470.16,14.62 L471.64,14.55 L473.12,14.48 L474.59,14.41 L476.07,14.33 L477.55,14.26 L479.02,14.18 L480.50,14.10" fill="none" stroke="#0000ff" stroke-width="1.5"/>
<path d="M105.80,149.77l3.5,6.06h-7zM121.20,229.46l3.5,6.06h-7zM135.26,266.52l3.5,6.06h-7zM149.94,274.73l3.5,6.06h-7zM164.63,263.74l3.5,6.06h-7zM179.32,242.16l3.5,6.06h-7zM194.00,214.15l3.5,6.06h-7zM208.69,184.59l3.5,6.06h-7zM223.37,156.78l3.5,6.06h-7zM238.06,131.17l3.5,6.06h-7zM252.75,109.53l3.5,6.06h-7zM267.43,90.97l3.5,6.06h-7zM282.12,76.09l3.5,6.06h-7zM296.80,63.88l3.5,6.06h-7zM311.49,52.43l3.5,6.06h-7zM326.18,43.38l3.5,6.06h-7zM340.86,36.44l3.5,6.06h-7zM355.55,30.70l3.5,6.06h-7zM370.23,25.59l3.5,6.06h-7zM384.92,22.24l3.5,6.06h-7zM399.61,19.53l3.5,6.06h-7zM414.29,16.76l3.5,6.06h-7zM428.98,14.62l3.5,6.06h-7zM443.66,12.63l3.5,6.06h-7zM458.35,11.25l3.5,6.06h-7zM473.04,10.44l3.5,6.06h-7z" fill="none" stroke="#0000ff" stroke-width="1.7"/>
<path d="M91.40,9.40 L91.49,11.11 L91.59,12.82 L91.69,14.52 L91.79,16.23 L91.90,17.94 L92.02,19.65 L92.14,21.35 L92.26,23.06 L92.39,24.77 L92.52,26.47 L92.65,28.18 L92.79,29.88 L92.93,31.59 L93.08,33.29 L93.22,35.00 L93.37,36.70 L93.53,38.41 L93.68,40.11 L93.84,41.81 L94.00,43.52 L94.16,45.22 L94.33,46.92 L94.49,48.63 L94.66,50.33 L94.83,52.03 L94.99,53.73 L95.16,55.44 L95.32,57.14 L95.48,58.84 L95.64,60.55 L95.79,62.25 L95.95,63.95 L96.10,65.66 L96.25,67.36 L96.40,69.07 L96.55,70.77 L96.70,72.48 L96.84,74.18 L96.99,75.88 L97.14,77.59 L97.28,79.29 L97.43,81.00 L97.58,82.70 L97.72,84.41 L97.87,86.11 L98.01,87.82 L98.16,89.52 L98.30,91.23 L98.45,92.93 L98.59,94.64 L98.74,96.34 L98.89,98.05 L99.04,99.75 L99.19,101.45 L99.34,103.16 L99.50,104.86 L99.66,106.56 L99.83,108.27 L100.00,109.97 L100.17,111.67 L100.35,113.37 L100.53,115.07 L100.72,116.77 L100.91,118.48 L101.09,120.18 L101.28,121.88 L101.46,123.58 L101.64,125.28 L101.83,126.98 L102.01,128.68 L102.19,130.38 L102.37,132.08 L102.55,133.79 L102.73,135.49 L102.92,137.19 L103.11,138.89 L103.30,140.59 L103.50,142.29 L103.70,143.99 L103.91,145.68 L104.12,147.38 L104.33,149.08 L104.55,150.78 L104.76,152.47 L104.98,154.17 L105.18,155.87 L105.39,157.57 L105.59,159.27 L105.81,160.96 L106.04,162.66 L106.28,164.35 L106.52,166.05 L106.77,167.74 L107.02,169.43 L107.26,171.13 L107.50,172.82 L107.73,174.52 L107.96,176.21 L108.18,177.91 L108.40,179.60 L108.62,181.30 L108.84,183.00 L109.06,184.69 L109.28,186.39 L109.50,188.09 L109.73,189.78 L109.95,191.48 L110.18,193.18 L110.41,194.87 L110.63,196.57 L110.86,198.26 L111.09,199.96 L111.33,201.65 L111.56,203.35 L111.79,205.04 L112.03,206.74 L112.27,208.43 L112.50,210.13 L112.74,211.82 L112.98,213.52 L113.22,215.21 L113.47,216.90 L113.71,218.60 L113.96,220.29 L114.20,221.98 L114.45,223.67 L114.70,225.36 L114.95,227.05 L115.21,228.74 L115.46,230.43 L115.72,232.12 L115.98,233.81 L116.24,235.50 L116.50,237.19 L116.77,238.88 L117.04,240.56 L117.32,242.25 L117.60,243.94 L117.88,245.63 L118.17,247.31 L118.46,249.00 L118.75,250.69 L119.06,252.37 L119.36,254.06 L119.67,255.75 L119.99,257.44 L120.32,259.12 L120.65,260.81 L120.98,262.50 L121.32,264.19 L121.67,265.87 L122.02,267.56 L122.38,269.24 L122.75,270.93 L123.12,272.61 L123.50,274.29 L123.89,275.97 L124.28,277.65 L124.67,279.33 L125.08,281.00 L125.49,282.68 L125.91,284.35 L126.33,286.01 L126.76,287.68 L127.19,289.34 L127.64,291.00 L128.09,292.65 L128.54,294.31 L129.01,295.96 L129.47,297.60 L129.95,299.24 L130.43,300.88 L130.92,302.51 L131.42,304.14 L131.92,305.76 L132.43,307.38 L132.95,309.00 L133.48,310.60 L134.01,312.21 L134.55,313.80 L135.09,315.40 L135.64,316.98 L136.20,318.56 L136.78,320.14 L137.36,321.71 L137.96,323.27 L138.58,324.83 L139.22,326.38 L139.88,327.93 L140.56,329.47 L141.27,331.00 L142.01,332.53 L142.78,334.06 L143.58,335.58 L144.42,337.09 L145.30,338.60 L146.21,340.10 L147.17,341.60 L148.18,343.09 L149.23,344.58 L150.32,346.06 L151.47,347.53 L152.67,348.97 L153.92,350.35 L155.21,351.65 L156.55,352.86 L157.93,353.95 L159.35,354.90 L160.82,355.68 L162.33,356.29 L163.88,356.69 L165.47,356.87 L167.09,356.83 L168.73,356.58 L170.39,356.16 L172.04,355.58 L173.68,354.86 L175.30,354.03 L176.88,353.11 L178.42,352.11 L179.90,351.07 L181.32,349.98 L182.69,348.86 L184.00,347.71 L185.26,346.52 L186.47,345.31 L187.64,344.07 L188.76,342.80 L189.85,341.50 L190.91,340.18 L191.94,338.84 L192.95,337.48 L193.93,336.10 L194.89,334.71 L195.83,333.30 L196.76,331.88 L197.67,330.44 L198.57,328.99 L199.45,327.52 L200.32,326.05 L201.18,324.57 L202.03,323.08 L202.86,321.58 L203.69,320.07 L204.51,318.56 L205.32,317.04 L206.13,315.52 L206.93,314.00 L207.73,312.48 L208.52,310.95 L209.31,309.42 L210.10,307.90 L210.88,306.37 L211.67,304.85 L212.45,303.32 L213.22,301.79 L213.99,300.26 L214.76,298.73 L215.53,297.20 L216.29,295.67 L217.04,294.14 L217.79,292.60 L218.53,291.06 L219.27,289.52 L220.00,287.98 L220.73,286.43 L221.45,284.88 L222.16,283.33 L222.87,281.78 L223.57,280.22 L224.26,278.66 L224.95,277.09 L225.63,275.52 L226.30,273.95 L226.97,272.38 L227.63,270.80 L228.29,269.22 L228.94,267.64 L229.59,266.06 L230.24,264.47 L230.88,262.89 L231.52,261.30 L232.16,259.72 L232.80,258.13 L233.44,256.54 L234.08,254.95 L234.72,253.36 L235.36,251.77 L236.00,250.18 L236.64,248.60 L237.28,247.01 L237.93,245.42 L238.58,243.84 L239.23,242.26 L239.88,240.68 L240.54,239.10 L241.20,237.52 L241.86,235.94 L242.53,234.36 L243.19,232.79 L243.86,231.22 L244.54,229.64 L245.21,228.07 L245.89,226.50 L246.57,224.93 L247.24,223.36 L247.93,221.79 L248.61,220.22 L249.29,218.65 L249.98,217.09 L250.67,215.52 L251.36,213.95 L252.04,212.39 L252.73,210.82 L253.43,209.26 L254.12,207.69 L254.81,206.13 L255.51,204.56 L256.20,203.00 L256.90,201.44 L257.60,199.88 L258.30,198.31 L259.00,196.75 L259.71,195.19 L260.41,193.64 L261.12,192.08 L261.83,190.52 L262.55,188.97 L263.26,187.41 L263.98,185.86 L264.71,184.31 L265.43,182.76 L266.16,181.22 L266.89,179.67 L267.63,178.12 L268.37,176.58 L269.11,175.04 L269.85,173.50 L270.60,171.96 L271.35,170.43 L272.11,168.89 L272.87,167.36 L273.63,165.83 L274.39,164.30 L275.16,162.77 L275.93,161.24 L276.70,159.71 L277.47,158.19 L278.25,156.66 L279.03,155.14 L279.81,153.62 L280.60,152.10 L281.39,150.58 L282.18,149.06 L282.97,147.54 L283.76,146.02 L284.56,144.50 L285.36,142.99 L286.17,141.48 L286.99,139.97 L287.81,138.47 L288.64,136.97 L289.48,135.48 L290.33,133.99 L291.19,132.51 L292.06,131.04 L292.94,129.57 L293.83,128.12 L294.74,126.67 L295.66,125.23 L296.60,123.80 L297.55,122.38 L298.52,120.97 L299.51,119.57 L300.50,118.18 L301.52,116.80 L302.54,115.43 L303.58,114.07 L304.63,112.71 L305.68,111.37 L306.75,110.03 L307.83,108.70 L308.92,107.38 L310.02,106.06 L311.12,104.75 L312.23,103.45 L313.35,102.15 L314.47,100.86 L315.60,99.57 L316.73,98.29 L317.87,97.02 L319.02,95.75 L320.17,94.48 L321.33,93.22 L322.49,91.96 L323.65,90.71 L324.82,89.46 L326.00,88.22 L327.17,86.97 L328.36,85.74 L329.54,84.50 L330.74,83.28 L331.94,82.06 L333.15,80.84 L334.36,79.64 L335.59,78.44 L336.82,77.26 L338.07,76.09 L339.32,74.92 L340.59,73.78 L341.87,72.64 L343.17,71.52 L344.47,70.41 L345.79,69.32 L347.12,68.25 L348.47,67.18 L349.82,66.14 L351.19,65.10 L352.56,64.09 L353.95,63.09 L355.35,62.10 L356.76,61.13 L358.18,60.18 L359.61,59.24 L361.05,58.32 L362.50,57.41 L363.95,56.50 L365.42,55.62 L366.89,54.74 L368.36,53.87 L369.84,53.01 L371.33,52.15 L372.82,51.31 L374.32,50.48 L375.82,49.66 L377.33,48.85 L378.85,48.07 L380.38,47.30 L381.92,46.56 L383.47,45.84 L385.03,45.14 L386.61,44.47 L388.19,43.83 L389.78,43.20 L391.38,42.59 L392.98,41.99 L394.59,41.39 L396.19,40.79 L397.79,40.19 L399.39,39.58 L400.99,38.96 L402.58,38.32 L404.17,37.69 L405.76,37.05 L407.35,36.41 L408.94,35.78 L410.53,35.17 L412.13,34.57 L413.74,33.99 L415.36,33.44 L416.99,32.91 L418.62,32.41 L420.26,31.93 L421.91,31.46 L423.56,31.01 L425.22,30.57 L426.87,30.14 L428.53,29.72 L430.19,29.30 L431.85,28.89 L433.52,28.47 L435.18,28.07 L436.84,27.66 L438.50,27.26 L440.16,26.85 L441.83,26.45 L443.49,26.05 L445.15,25.65 L446.82,25.25 L448.48,24.86 L450.15,24.48 L451.82,24.10 L453.49,23.74 L455.17,23.40 L456.85,23.07 L458.53,22.76 L460.22,22.47 L461.91,22.20 L463.60,21.95 L465.29,21.70 L466.98,21.46 L468.68,21.22 L470.37,20.98 L472.07,20.74 L473.76,20.48 L475.45,20.22 L477.14,19.93 L478.82,19.63 L480.50,19.30" fill="none" stroke="#ae6ef5" stroke-width="1.5"/>
<path d="M105.80,164.94l3.5,-6.06h-7zM120.10,262.04l3.5,-6.06h-7zM135.26,319.92l3.5,-6.06h-7zM149.94,349.59l3.5,-6.06h-7zM164.63,360.81l3.5,-6.06h-7zM179.32,355.52l3.5,-6.06h-7zM194.00,340.04l3.5,-6.06h-7zM208.69,314.66l3.5,-6.06h-7zM223.37,284.70l3.5,-6.06h-7zM238.06,249.14l3.5,-6.06h-7zM252.75,214.84l3.5,-6.06h-7zM267.43,182.57l3.5,-6.06h-7zM282.12,153.21l3.5,-6.06h-7zM296.80,127.54l3.5,-6.06h-7zM311.49,108.35l3.5,-6.06h-7zM326.18,92.07l3.5,-6.06h-7zM340.86,77.58l3.5,-6.06h-7zM355.55,66.01l3.5,-6.06h-7zM370.23,56.82l3.5,-6.06h-7zM384.92,49.23l3.5,-6.06h-7zM399.61,43.54l3.5,-6.06h-7zM414.29,37.85l3.5,-6.06h-7zM428.98,33.65l3.5,-6.06h-7zM443.66,30.05l3.5,-6.06h-7zM458.35,26.83l3.5,-6.06h-7zM473.04,24.63l3.5,-6.06h-7z" fill="none" stroke="#ae6ef5" stroke-width="1.7"/>
<path d="M91.40,9.40 L91.49,9.60 L91.56,9.82 L91.61,10.05 L91.65,10.29 L91.67,10.54 L91.68,10.81 L91.68,11.08 L91.68,11.36 L91.66,11.64 L91.65,11.93 L91.63,12.22 L91.62,12.51 L91.61,12.80 L91.60,13.09 L91.60,13.38 L91.60,13.66 L91.62,13.94 L91.66,14.22 L91.70,14.48 L91.77,14.74 L91.85,14.98 L91.95,15.21 L92.08,15.43 L92.23,15.64 L92.41,15.83 L92.61,16.00 L92.83,16.16 L93.06,16.29 L93.30,16.42 L93.55,16.52 L93.80,16.60 L94.05,16.67 L94.31,16.72 L94.57,16.76 L94.83,16.79 L95.09,16.80 L95.35,16.80 L95.62,16.79 L95.88,16.78 L96.15,16.75 L96.42,16.72 L96.69,16.69 L96.96,16.65 L97.22,16.61 L97.49,16.57 L97.76,16.53 L98.03,16.50 L98.30,16.46 M114.06,15.61 L114.33,15.59 L114.59,15.57 L114.85,15.54 L115.12,15.52 L115.38,15.50 L115.64,15.48 L115.91,15.46 L116.17,15.44 L116.43,15.41 L116.70,15.39 L116.96,15.37 L117.22,15.35 L117.49,15.33 L117.75,15.30 L118.01,15.28 L118.28,15.26 L118.54,15.24 L118.80,15.22 L119.07,15.19 L119.33,15.17 L119.59,15.15 L119.86,15.13 L120.12,15.11 L120.38,15.09 L120.65,15.06 L120.91,15.04 L121.17,15.02 L121.44,15.00 L121.70,14.98 L121.96,14.96 L122.23,14.94 L122.49,14.92 L122.75,14.90 L123.02,14.88 L123.28,14.86 L123.54,14.84 L123.80,14.82 L124.07,14.80 L124.33,14.78 L124.59,14.76 L124.86,14.74 L125.12,14.73 L125.38,14.71 L125.64,14.69 L125.91,14.67 L126.17,14.65 L126.43,14.63 L126.70,14.61 L126.96,14.60 L127.22,14.58 L127.48,14.56 M138.00,13.93 L138.26,13.91 L138.52,13.90 L138.79,13.88 L139.05,13.87 L139.31,13.86 L139.58,13.84 L139.84,13.83 L140.10,13.81 L140.37,13.80 L140.63,13.78 L140.89,13.77 L141.16,13.76 L141.42,13.74 L141.68,13.73 L141.95,13.72 L142.21,13.70 L142.47,13.69 L142.74,13.67 L143.00,13.66 L143.26,13.65 L143.52,13.63 L143.79,13.62 L144.05,13.60 L144.31,13.59 L144.58,13.58 L144.84,13.56 L145.10,13.55 L145.37,13.53 L145.63,13.52 L145.89,13.51 L146.16,13.49 L146.42,13.48 L146.68,13.46 L146.95,13.45 L147.21,13.44 L147.47,13.42 L147.74,13.41 L148.00,13.39 L148.26,13.38 L148.53,13.36 L148.79,13.35 L149.05,13.34 L149.31,13.32 L149.58,13.31 L149.84,13.29 L150.10,13.28 L150.37,13.26 L150.63,13.25 L150.89,13.23 L151.16,13.22 L151.42,13.20 M161.94,12.62 L162.21,12.61 L162.47,12.60 L162.73,12.58 L163.00,12.57 L163.26,12.56 L163.52,12.55 L163.79,12.53 L164.05,12.52 L164.31,12.51 L164.58,12.50 L164.84,12.48 L165.10,12.47 L165.37,12.46 L165.63,12.45 L165.89,12.44 L166.16,12.43 L166.42,12.42 L166.68,12.41 L166.95,12.40 L167.21,12.39 L167.47,12.37 L167.74,12.36 L168.00,12.35 L168.26,12.34 L168.53,12.33 L168.79,12.32 L169.05,12.31 L169.32,12.31 L169.58,12.30 L169.84,12.29 L170.11,12.28 L170.37,12.27 L170.63,12.26 L170.90,12.25 L171.16,12.24 L171.42,12.23 L171.69,12.22 L171.95,12.21 L172.21,12.21 L172.48,12.20 L172.74,12.19 L173.00,12.18 L173.27,12.17 L173.53,12.16 L173.79,12.15 L174.06,12.15 L174.32,12.14 L174.58,12.13 L174.85,12.12 L175.11,12.11 L175.37,12.11 M185.65,11.81 L185.91,11.80 L186.17,11.80 L186.44,11.79 L186.70,11.78 L186.96,11.77 L187.23,11.77 L187.49,11.76 L187.75,11.75 L188.02,11.75 L188.28,11.74 L188.54,11.73 L188.81,11.73 L189.07,11.72 L189.33,11.71 L189.60,11.70 L189.86,11.70 L190.12,11.69 L190.39,11.68 L190.65,11.68 L190.91,11.67 L191.18,11.66 L191.44,11.66 L191.70,11.65 L191.97,11.64 L192.23,11.64 L192.49,11.63 L192.76,11.62 L193.02,11.62 L193.29,11.61 L193.55,11.61 L193.81,11.60 L194.08,11.59 L194.34,11.59 L194.60,11.58 L194.87,11.58 L195.13,11.57 L195.39,11.56 L195.66,11.56 L195.92,11.55 L196.18,11.55 L196.45,11.54 L196.71,11.53 L196.97,11.53 L197.24,11.52 L197.50,11.52 L197.76,11.51 L198.03,11.51 L198.29,11.50 L198.55,11.49 L198.82,11.49 L199.08,11.48 M209.62,11.27 L209.88,11.26 L210.15,11.26 L210.41,11.25 L210.67,11.25 L210.94,11.24 L211.20,11.23 L211.46,11.23 L211.73,11.22 L211.99,11.22 L212.25,11.21 L212.52,11.21 L212.78,11.20 L213.04,11.19 L213.31,11.19 L213.57,11.18 L213.83,11.18 L214.10,11.17 L214.36,11.16 L214.62,11.16 L214.89,11.15 L215.15,11.15 L215.42,11.14 L215.68,11.14 L215.94,11.13 L216.21,11.12 L216.47,11.12 L216.73,11.11 L217.00,11.11 L217.26,11.10 L217.52,11.10 L217.79,11.09 L218.05,11.08 L218.31,11.08 L218.58,11.07 L218.84,11.07 L219.10,11.06 L219.37,11.06 L219.63,11.05 L219.89,11.05 L220.16,11.04 L220.42,11.04 L220.68,11.03 L220.95,11.02 L221.21,11.02 L221.47,11.01 L221.74,11.01 L222.00,11.00 L222.26,11.00 L222.53,10.99 L222.79,10.99 L223.06,10.98 M233.33,10.81 L233.59,10.81 L233.86,10.80 L234.12,10.80 L234.38,10.80 L234.65,10.79 L234.91,10.79 L235.18,10.79 L235.44,10.78 L235.70,10.78 L235.97,10.77 L236.23,10.77 L236.49,10.77 L236.76,10.76 L237.02,10.76 L237.28,10.76 L237.55,10.75 L237.81,10.75 L238.07,10.75 L238.34,10.74 L238.60,10.74 L238.86,10.74 L239.13,10.73 L239.39,10.73 L239.65,10.73 L239.92,10.72 L240.18,10.72 L240.44,10.72 L240.71,10.71 L240.97,10.71 L241.24,10.71 L241.50,10.70 L241.76,10.70 L242.03,10.70 L242.29,10.69 L242.55,10.69 L242.82,10.69 L243.08,10.68 L243.34,10.68 L243.61,10.68 L243.87,10.67 L244.13,10.67 L244.40,10.67 L244.66,10.66 L244.92,10.66 L245.19,10.66 L245.45,10.65 L245.71,10.65 L245.98,10.65 L246.24,10.64 L246.51,10.64 L246.77,10.64 M257.31,10.52 L257.57,10.51 L257.84,10.51 L258.10,10.51 L258.36,10.50 L258.63,10.50 L258.89,10.50 L259.15,10.49 L259.42,10.49 L259.68,10.49 L259.94,10.48 L260.21,10.48 L260.47,10.48 L260.73,10.48 L261.00,10.47 L261.26,10.47 L261.52,10.47 L261.79,10.46 L262.05,10.46 L262.32,10.46 L262.58,10.46 L262.84,10.45 L263.11,10.45 L263.37,10.45 L263.63,10.44 L263.90,10.44 L264.16,10.44 L264.42,10.43 L264.69,10.43 L264.95,10.43 L265.21,10.43 L265.48,10.42 L265.74,10.42 L266.00,10.42 L266.27,10.41 L266.53,10.41 L266.79,10.41 L267.06,10.41 L267.32,10.40 L267.59,10.40 L267.85,10.40 L268.11,10.39 L268.38,10.39 L268.64,10.39 L268.90,10.39 L269.17,10.38 L269.43,10.38 L269.69,10.38 L269.96,10.37 L270.22,10.37 L270.48,10.37 L270.75,10.37 M281.02,10.26 L281.29,10.26 L281.55,10.26 L281.81,10.25 L282.08,10.25 L282.34,10.25 L282.60,10.24 L282.87,10.24 L283.13,10.24 L283.39,10.24 L283.66,10.23 L283.92,10.23 L284.19,10.23 L284.45,10.23 L284.71,10.23 L284.98,10.22 L285.24,10.22 L285.50,10.22 L285.77,10.22 L286.03,10.21 L286.29,10.21 L286.56,10.21 L286.82,10.21 L287.08,10.20 L287.35,10.20 L287.61,10.20 L287.87,10.20 L288.14,10.19 L288.40,10.19 L288.66,10.19 L288.93,10.19 L289.19,10.18 L289.46,10.18 L289.72,10.18 L289.98,10.18 L290.25,10.18 L290.51,10.17 L290.77,10.17 L291.04,10.17 L291.30,10.17 L291.56,10.16 L291.83,10.16 L292.09,10.16 L292.35,10.16 L292.62,10.16 L292.88,10.15 L293.14,10.15 L293.41,10.15 L293.67,10.15 L293.93,10.15 L294.20,10.14 L294.46,10.14 M305.00,10.07 L305.27,10.07 L305.53,10.06 L305.79,10.06 L306.06,10.06 L306.32,10.06 L306.58,10.06 L306.85,10.06 L307.11,10.05 L307.37,10.05 L307.64,10.05 L307.90,10.05 L308.16,10.05 L308.43,10.05 L308.69,10.05 L308.95,10.04 L309.22,10.04 L309.48,10.04 L309.75,10.04 L310.01,10.04 L310.27,10.04 L310.54,10.04 L310.80,10.03 L311.06,10.03 L311.33,10.03 L311.59,10.03 L311.85,10.03 L312.12,10.03 L312.38,10.03 L312.64,10.02 L312.91,10.02 L313.17,10.02 L313.43,10.02 L313.70,10.02 L313.96,10.02 L314.22,10.02 L314.49,10.02 L314.75,10.01 L315.02,10.01 L315.28,10.01 L315.54,10.01 L315.81,10.01 L316.07,10.01 L316.33,10.01 L316.60,10.01 L316.86,10.00 L317.12,10.00 L317.39,10.00 L317.65,10.00 L317.91,10.00 L318.18,10.00 L318.44,10.00 M328.72,9.96 L328.98,9.96 L329.24,9.96 L329.51,9.96 L329.77,9.95 L330.04,9.95 L330.30,9.95 L330.56,9.95 L330.83,9.95 L331.09,9.95 L331.35,9.95 L331.62,9.95 L331.88,9.95 L332.14,9.95 L332.41,9.95 L332.67,9.95 L332.93,9.94 L333.20,9.94 L333.46,9.94 L333.72,9.94 L333.99,9.94 L334.25,9.94 L334.51,9.94 L334.78,9.94 L335.04,9.94 L335.31,9.94 L335.57,9.94 L335.83,9.94 L336.10,9.94 L336.36,9.93 L336.62,9.93 L336.89,9.93 L337.15,9.93 L337.41,9.93 L337.68,9.93 L337.94,9.93 L338.20,9.93 L338.47,9.93 L338.73,9.93 L338.99,9.93 L339.26,9.93 L339.52,9.93 L339.79,9.93 L340.05,9.92 L340.31,9.92 L340.58,9.92 L340.84,9.92 L341.10,9.92 L341.37,9.92 L341.63,9.92 L341.89,9.92 L342.16,9.92 M352.70,9.89 L352.96,9.89 L353.22,9.89 L353.49,9.89 L353.75,9.89 L354.01,9.89 L354.28,9.89 L354.54,9.89 L354.81,9.89 L355.07,9.89 L355.33,9.89 L355.60,9.89 L355.86,9.89 L356.12,9.89 L356.39,9.89 L356.65,9.88 L356.91,9.88 L357.18,9.88 L357.44,9.88 L357.70,9.88 L357.97,9.88 L358.23,9.88 L358.49,9.88 L358.76,9.88 L359.02,9.88 L359.29,9.88 L359.55,9.88 L359.81,9.88 L360.08,9.88 L360.34,9.88 L360.60,9.88 L360.87,9.88 L361.13,9.87 L361.39,9.87 L361.66,9.87 L361.92,9.87 L362.18,9.87 L362.45,9.87 L362.71,9.87 L362.97,9.87 L363.24,9.87 L363.50,9.87 L363.76,9.87 L364.03,9.87 L364.29,9.87 L364.56,9.87 L364.82,9.87 L365.08,9.87 L365.35,9.87 L365.61,9.87 L365.87,9.86 L366.14,9.86 M376.41,9.84 L376.68,9.84 L376.94,9.84 L377.20,9.84 L377.47,9.84 L377.73,9.84 L377.99,9.84 L378.26,9.84 L378.52,9.84 L378.78,9.84 L379.05,9.84 L379.31,9.84 L379.58,9.84 L379.84,9.84 L380.10,9.84 L380.37,9.84 L380.63,9.83 L380.89,9.83 L381.16,9.83 L381.42,9.83 L381.68,9.83 L381.95,9.83 L382.21,9.83 L382.47,9.83 L382.74,9.83 L383.00,9.83 L383.26,9.83 L383.53,9.83 L383.79,9.83 L384.06,9.83 L384.32,9.83 L384.58,9.83 L384.85,9.83 L385.11,9.83 L385.37,9.83 L385.64,9.83 L385.90,9.82 L386.16,9.82 L386.43,9.82 L386.69,9.82 L386.95,9.82 L387.22,9.82 L387.48,9.82 L387.74,9.82 L388.01,9.82 L388.27,9.82 L388.53,9.82 L388.80,9.82 L389.06,9.82 L389.33,9.82 L389.59,9.82 L389.85,9.82 M400.39,9.80 L400.66,9.80 L400.92,9.80 L401.18,9.80 L401.45,9.80 L401.71,9.80 L401.97,9.80 L402.24,9.80 L402.50,9.80 L402.76,9.80 L403.03,9.79 L403.29,9.79 L403.55,9.79 L403.82,9.79 L404.08,9.79 L404.35,9.79 L404.61,9.79 L404.87,9.79 L405.14,9.79 L405.40,9.79 L405.66,9.79 L405.93,9.79 L406.19,9.79 L406.45,9.79 L406.72,9.79 L406.98,9.79 L407.24,9.79 L407.51,9.79 L407.77,9.79 L408.03,9.79 L408.30,9.79 L408.56,9.79 L408.82,9.79 L409.09,9.79 L409.35,9.78 L409.62,9.78 L409.88,9.78 L410.14,9.78 L410.41,9.78 L410.67,9.78 L410.93,9.78 L411.20,9.78 L411.46,9.78 L411.72,9.78 L411.99,9.78 L412.25,9.78 L412.51,9.78 L412.78,9.78 L413.04,9.78 L413.30,9.78 L413.57,9.78 L413.83,9.78 M424.11,9.76 L424.37,9.76 L424.64,9.76 L424.90,9.76 L425.16,9.76 L425.43,9.76 L425.69,9.76 L425.95,9.76 L426.22,9.76 L426.48,9.76 L426.74,9.76 L427.01,9.76 L427.27,9.76 L427.53,9.76 L427.80,9.76 L428.06,9.76 L428.32,9.76 L428.59,9.76 L428.85,9.76 L429.12,9.76 L429.38,9.76 L429.64,9.76 L429.91,9.75 L430.17,9.75 L430.43,9.75 L430.70,9.75 L430.96,9.75 L431.22,9.75 L431.49,9.75 L431.75,9.75 L432.01,9.75 L432.28,9.75 L432.54,9.75 L432.80,9.75 L433.07,9.75 L433.33,9.75 L433.59,9.75 L433.86,9.75 L434.12,9.75 L434.39,9.75 L434.65,9.75 L434.91,9.75 L435.18,9.75 L435.44,9.75 L435.70,9.75 L435.97,9.75 L436.23,9.75 L436.49,9.75 L436.76,9.75 L437.02,9.75 L437.28,9.75 L437.55,9.74 M448.09,9.73 L448.35,9.73 L448.62,9.73 L448.88,9.73 L449.14,9.73 L449.41,9.73 L449.67,9.73 L449.93,9.73 L450.20,9.73 L450.46,9.73 L450.72,9.73 L450.99,9.73 L451.25,9.73 L451.51,9.73 L451.78,9.73 L452.04,9.73 L452.30,9.73 L452.57,9.73 L452.83,9.73 L453.09,9.73 L453.36,9.73 L453.62,9.73 L453.89,9.73 L454.15,9.73 L454.41,9.73 L454.68,9.72 L454.94,9.72 L455.20,9.72 L455.47,9.72 L455.73,9.72 L455.99,9.72 L456.26,9.72 L456.52,9.72 L456.78,9.72 L457.05,9.72 L457.31,9.72 L457.57,9.72 L457.84,9.72 L458.10,9.72 L458.37,9.72 L458.63,9.72 L458.89,9.72 L459.16,9.72 L459.42,9.72 L459.68,9.72 L459.95,9.72 L460.21,9.72 L460.47,9.72 L460.74,9.72 L461.00,9.72 L461.26,9.72 L461.53,9.72 M471.80,9.71 L472.07,9.71 L472.33,9.71 L472.59,9.71 L472.86,9.71 L473.12,9.71 L473.39,9.71 L473.65,9.71 L473.91,9.71 L474.18,9.71 L474.44,9.71 L474.70,9.71 L474.97,9.70 L475.23,9.70 L475.49,9.70 L475.76,9.70 L476.02,9.70 L476.28,9.70 L476.55,9.70 L476.81,9.70 L477.07,9.70 L477.34,9.70 L477.60,9.70 L477.86,9.70 L478.13,9.70 L478.39,9.70 L478.66,9.70 L478.92,9.70 L479.18,9.70 L479.45,9.70 L479.71,9.70 L479.97,9.70 L480.24,9.70 L480.50,9.70" fill="none" stroke="#000" stroke-width="4"/>
<path d="M91.40,9.40 L91.40,9.70 L91.40,10.01 L91.40,10.31 L91.40,10.61 L91.41,10.91 L91.41,11.22 L91.42,11.52 L91.43,11.82 L91.43,12.12 L91.44,12.42 L91.45,12.73 L91.46,13.03 L91.47,13.33 L91.48,13.63 L91.50,13.93 L91.51,14.23 L91.53,14.54 L91.54,14.84 L91.56,15.14 L91.57,15.44 L91.59,15.74 L91.61,16.04 L91.63,16.34 L91.65,16.64 L91.67,16.94 L91.69,17.25 L91.71,17.55 L91.74,17.85 L91.76,18.15 L91.79,18.45 L91.81,18.75 L91.84,19.05 L91.86,19.35 L91.89,19.65 L91.92,19.95 L91.95,20.25 L91.97,20.55 L92.00,20.85 L92.03,21.15 L92.06,21.45 L92.10,21.75 L92.13,22.05 L92.16,22.35 L92.19,22.65 M95.02,42.96 L95.06,43.26 L95.11,43.56 L95.15,43.86 L95.19,44.15 L95.23,44.45 L95.28,44.75 L95.32,45.05 L95.36,45.35 L95.41,45.65 L95.45,45.95 L95.49,46.25 L95.53,46.54 L95.58,46.84 L95.62,47.14 L95.66,47.44 L95.71,47.74 L95.75,48.04 L95.79,48.34 L95.83,48.64 L95.88,48.94 L95.92,49.23 L95.96,49.53 L96.00,49.83 L96.05,50.13 L96.09,50.43 L96.14,50.73 L96.18,51.03 L96.22,51.33 L96.27,51.62 L96.31,51.92 L96.36,52.22 L96.41,52.52 L96.45,52.82 L96.50,53.11 L96.55,53.41 L96.59,53.71 L96.64,54.01 L96.69,54.30 L96.74,54.60 L96.79,54.90 L96.84,55.20 L96.89,55.49 L96.94,55.79 L97.00,56.08 L97.05,56.38 M107.38,72.20 L107.67,72.17 L107.96,72.13 L108.24,72.08 L108.53,72.03 L108.82,71.97 L109.10,71.90 L109.38,71.82 L109.67,71.74 L109.95,71.65 L110.23,71.56 L110.51,71.45 L110.79,71.35 L111.06,71.23 L111.34,71.11 L111.62,70.99 L111.89,70.86 L112.16,70.73 L112.44,70.59 L112.71,70.44 L112.98,70.30 L113.25,70.14 L113.52,69.99 L113.79,69.83 L114.06,69.66 L114.32,69.50 L114.59,69.33 L114.86,69.16 L115.12,68.98 L115.38,68.80 L115.65,68.62 L115.91,68.44 L116.17,68.26 L116.44,68.07 L116.70,67.88 L116.96,67.69 L117.22,67.50 L117.48,67.31 L117.74,67.12 L118.00,66.93 L118.26,66.74 L118.52,66.54 L118.78,66.35 L119.03,66.16 L119.29,65.97 L119.55,65.78 L119.81,65.59 L120.06,65.40 L120.32,65.21 L120.58,65.03 L120.83,64.84 M132.34,57.62 L132.60,57.48 L132.86,57.33 L133.12,57.19 L133.38,57.04 L133.64,56.90 L133.90,56.75 L134.16,56.61 L134.42,56.47 L134.68,56.32 L134.94,56.18 L135.20,56.04 L135.46,55.89 L135.72,55.75 L135.99,55.61 L136.25,55.46 L136.51,55.32 L136.77,55.18 L137.04,55.03 L137.30,54.89 L137.57,54.75 L137.83,54.61 L138.09,54.47 L138.36,54.32 L138.62,54.18 L138.89,54.04 L139.16,53.90 L139.42,53.76 L139.69,53.62 L139.95,53.48 L140.22,53.34 L140.49,53.20 L140.75,53.06 L141.02,52.92 L141.29,52.78 L141.56,52.64 L141.83,52.50 L142.10,52.36 L142.36,52.22 M152.44,47.34 L152.72,47.21 L152.99,47.09 L153.27,46.96 L153.54,46.84 L153.82,46.72 L154.10,46.60 L154.37,46.47 L154.65,46.35 L154.92,46.23 L155.20,46.11 L155.48,45.99 L155.75,45.87 L156.03,45.75 L156.31,45.63 L156.58,45.51 L156.86,45.39 L157.14,45.27 L157.41,45.15 L157.69,45.03 L157.97,44.92 L158.25,44.80 L158.52,44.68 L158.80,44.56 L159.08,44.45 L159.36,44.33 L159.63,44.21 L159.91,44.10 L160.19,43.98 L160.47,43.86 L160.75,43.75 L161.02,43.63 L161.30,43.52 L161.58,43.40 L161.86,43.28 L162.14,43.17 L162.42,43.05 L162.69,42.94 L162.97,42.83 L163.25,42.71 L163.53,42.60 L163.81,42.48 L164.09,42.37 L164.37,42.25 L164.65,42.14 L164.93,42.03 L165.21,41.91 L165.48,41.80 L165.76,41.69 L166.04,41.57 L166.32,41.46 L166.60,41.35 M175.58,37.80 L175.86,37.69 L176.14,37.58 L176.42,37.47 L176.71,37.37 L176.99,37.26 L177.27,37.15 L177.55,37.04 L177.83,36.94 L178.12,36.83 L178.40,36.73 L178.68,36.62 L178.96,36.51 L179.25,36.41 L179.53,36.30 L179.81,36.20 L180.09,36.09 L180.38,35.99 L180.66,35.88 L180.94,35.78 L181.23,35.68 L181.51,35.57 L181.79,35.47 L182.08,35.37 L182.36,35.26 L182.64,35.16 L182.93,35.06 L183.21,34.96 L183.50,34.85 L183.78,34.75 L184.06,34.65 L184.35,34.55 L184.63,34.45 L184.92,34.35 L185.20,34.25 L185.49,34.15 L185.77,34.05 L186.06,33.95 L186.34,33.85 L186.63,33.75 L186.91,33.66 L187.20,33.56 M196.39,30.61 L196.68,30.53 L196.97,30.44 L197.26,30.36 L197.55,30.27 L197.84,30.19 L198.13,30.11 L198.42,30.02 L198.71,29.94 L199.00,29.86 L199.29,29.78 L199.58,29.69 L199.87,29.61 L200.16,29.53 L200.45,29.45 L200.74,29.37 L201.03,29.29 L201.32,29.21 L201.61,29.13 L201.91,29.06 L202.20,28.98 L202.49,28.90 L202.78,28.82 L203.07,28.75 L203.36,28.67 L203.66,28.59 L203.95,28.52 L204.24,28.44 L204.53,28.37 L204.82,28.29 L205.12,28.22 L205.41,28.15 L205.70,28.07 L205.99,28.00 L206.29,27.93 L206.58,27.86 L206.87,27.78 L207.17,27.71 L207.46,27.64 L207.75,27.57 L208.05,27.50 L208.34,27.43 L208.63,27.36 L208.93,27.29 L209.22,27.23 L209.51,27.16 M219.54,25.02 L219.84,24.96 L220.14,24.90 L220.43,24.84 L220.73,24.79 L221.02,24.73 L221.32,24.67 L221.62,24.61 L221.91,24.55 L222.21,24.49 L222.50,24.44 L222.80,24.38 L223.10,24.32 L223.39,24.26 L223.69,24.20 L223.98,24.15 L224.28,24.09 L224.58,24.03 L224.87,23.97 L225.17,23.92 L225.46,23.86 L225.76,23.80 L226.06,23.74 L226.35,23.69 L226.65,23.63 L226.95,23.57 L227.24,23.52 L227.54,23.46 L227.83,23.40 L228.13,23.35 L228.43,23.29 L228.72,23.23 L229.02,23.18 L229.32,23.12 L229.61,23.07 L229.91,23.01 L230.21,22.95 L230.50,22.90 L230.80,22.84 L231.09,22.79 L231.39,22.73 L231.69,22.68 L231.98,22.62 L232.28,22.57 L232.58,22.51 L232.87,22.46 L233.17,22.41 L233.47,22.35 L233.76,22.30 L234.06,22.24 L234.36,22.19 L234.65,22.14 L234.95,22.08 L235.25,22.03 M242.98,20.72 L243.28,20.67 L243.58,20.63 L243.87,20.58 L244.17,20.53 L244.47,20.48 L244.77,20.44 L245.07,20.39 L245.36,20.34 L245.66,20.30 L245.96,20.25 L246.26,20.20 L246.56,20.16 L246.85,20.11 L247.15,20.07 L247.45,20.02 L247.75,19.98 L248.05,19.93 L248.34,19.89 L248.64,19.84 L248.94,19.80 L249.24,19.75 L249.54,19.71 L249.84,19.66 L250.13,19.62 L250.43,19.57 L250.73,19.53 L251.03,19.49 L251.33,19.44 L251.63,19.40 L251.93,19.35 L252.22,19.31 L252.52,19.27 L252.82,19.22 L253.12,19.18 L253.42,19.14 L253.72,19.10 L254.01,19.05 L254.31,19.01 L254.61,18.97 L254.91,18.93 L255.21,18.88 L255.51,18.84 L255.81,18.80 L256.11,18.76 L256.40,18.71 M266.87,17.33 L267.17,17.29 L267.47,17.25 L267.77,17.22 L268.07,17.18 L268.37,17.14 L268.67,17.11 L268.96,17.07 L269.26,17.03 L269.56,17.00 L269.86,16.96 L270.16,16.93 L270.46,16.89 L270.76,16.86 L271.06,16.82 L271.36,16.78 L271.66,16.75 L271.96,16.72 L272.26,16.68 L272.56,16.65 L272.86,16.61 L273.16,16.58 L273.46,16.54 L273.76,16.51 L274.06,16.48 L274.36,16.44 L274.66,16.41 L274.96,16.38 L275.26,16.34 L275.56,16.31 L275.86,16.28 L276.16,16.25 L276.46,16.22 L276.76,16.18 L277.06,16.15 L277.36,16.12 L277.66,16.09 L277.96,16.06 L278.26,16.03 L278.56,16.00 L278.86,15.97 L279.16,15.94 L279.46,15.91 L279.76,15.88 L280.06,15.85 L280.36,15.82 L280.66,15.80 L280.96,15.77 L281.26,15.74 L281.56,15.71 L281.86,15.69 L282.16,15.66 L282.46,15.63 M289.38,15.08 L289.68,15.06 L289.98,15.04 L290.28,15.02 L290.58,14.99 L290.88,14.97 L291.18,14.95 L291.48,14.93 L291.78,14.91 L292.08,14.89 L292.38,14.87 L292.69,14.85 L292.99,14.83 L293.29,14.81 L293.59,14.79 L293.89,14.77 L294.19,14.75 L294.49,14.73 L294.79,14.71 L295.09,14.69 L295.39,14.67 L295.70,14.65 L296.00,14.63 L296.30,14.61 L296.60,14.59 L296.90,14.57 L297.20,14.56 L297.50,14.54 L297.80,14.52 L298.10,14.50 L298.40,14.48 L298.71,14.46 L299.01,14.44 L299.31,14.42 L299.61,14.40 L299.91,14.39 L300.21,14.37 L300.51,14.35 L300.81,14.33 L301.11,14.31 L301.42,14.30 L301.72,14.28 L302.02,14.26 L302.32,14.24 L302.62,14.22 L302.92,14.21 M313.46,13.67 L313.77,13.66 L314.07,13.65 L314.37,13.63 L314.67,13.62 L314.97,13.61 L315.27,13.60 L315.57,13.59 L315.87,13.57 L316.18,13.56 L316.48,13.55 L316.78,13.54 L317.08,13.53 L317.38,13.51 L317.68,13.50 L317.98,13.49 L318.29,13.48 L318.59,13.47 L318.89,13.46 L319.19,13.45 L319.49,13.43 L319.79,13.42 L320.09,13.41 L320.40,13.40 L320.70,13.39 L321.00,13.38 L321.30,13.37 L321.60,13.36 L321.90,13.34 L322.20,13.33 L322.51,13.32 L322.81,13.31 L323.11,13.30 L323.41,13.29 L323.71,13.28 L324.01,13.26 L324.31,13.25 L324.62,13.24 L324.92,13.23 L325.22,13.22 L325.52,13.21 L325.82,13.20 L326.12,13.18 L326.42,13.17 L326.72,13.16 L327.03,13.15 M339.08,12.65 L339.38,12.64 L339.68,12.62 L339.98,12.61 L340.29,12.60 L340.59,12.59 L340.89,12.58 L341.19,12.57 L341.49,12.55 L341.79,12.54 L342.09,12.53 L342.40,12.52 L342.70,12.51 L343.00,12.50 L343.30,12.48 L343.60,12.47 L343.90,12.46 L344.20,12.45 L344.51,12.44 L344.81,12.43 L345.11,12.42 L345.41,12.41 L345.71,12.40 L346.01,12.39 L346.31,12.37 L346.62,12.36 L346.92,12.35 L347.22,12.34 L347.52,12.33 L347.82,12.32 L348.12,12.31 L348.42,12.30 L348.73,12.29 L349.03,12.28 L349.33,12.27 L349.63,12.26 L349.93,12.25 M365.61,11.82 L365.91,11.81 L366.21,11.80 L366.51,11.79 L366.82,11.78 L367.12,11.77 L367.42,11.77 L367.72,11.76 L368.02,11.75 L368.32,11.74 L368.62,11.73 L368.93,11.72 L369.23,11.71 L369.53,11.71 L369.83,11.70 L370.13,11.69 L370.43,11.68 L370.73,11.67 L371.04,11.66 L371.34,11.65 L371.64,11.64 L371.94,11.63 L372.24,11.62 L372.54,11.61 L372.84,11.60 L373.15,11.59 L373.45,11.58 L373.75,11.57 L374.05,11.56 L374.35,11.55 L374.65,11.54 L374.95,11.53 L375.26,11.52 L375.56,11.51 L375.86,11.50 L376.16,11.49 L376.46,11.48 L376.76,11.47 L377.06,11.46 M390.63,10.99 L390.93,10.98 L391.23,10.97 L391.53,10.96 L391.84,10.95 L392.14,10.94 L392.44,10.93 L392.74,10.92 L393.04,10.91 L393.34,10.90 L393.64,10.90 L393.95,10.89 L394.25,10.88 L394.55,10.87 L394.85,10.86 L395.15,10.85 L395.45,10.84 L395.75,10.83 L396.06,10.82 L396.36,10.82 L396.66,10.81 L396.96,10.80 L397.26,10.79 L397.56,10.78 L397.86,10.77 L398.17,10.76 L398.47,10.76 L398.77,10.75 L399.07,10.74 L399.37,10.73 L399.67,10.72 L399.98,10.72 L400.28,10.71 L400.58,10.70 L400.88,10.69 M413.85,10.41 L414.15,10.40 L414.45,10.39 L414.75,10.39 L415.05,10.38 L415.35,10.38 L415.66,10.37 L415.96,10.37 L416.26,10.36 L416.56,10.36 L416.86,10.35 L417.16,10.35 L417.46,10.34 L417.77,10.34 L418.07,10.33 L418.37,10.33 L418.67,10.32 L418.97,10.32 L419.27,10.31 L419.58,10.31 L419.88,10.30 L420.18,10.30 L420.48,10.29 L420.78,10.29 L421.08,10.28 L421.39,10.28 L421.69,10.27 L421.99,10.27 L422.29,10.27 L422.59,10.26 L422.89,10.26 L423.19,10.25 L423.50,10.25 L423.80,10.24 L424.10,10.24 L424.40,10.24 M437.67,10.09 L437.97,10.08 L438.27,10.08 L438.58,10.08 L438.88,10.08 L439.18,10.07 L439.48,10.07 L439.78,10.07 L440.08,10.07 L440.39,10.06 L440.69,10.06 L440.99,10.06 L441.29,10.06 L441.59,10.05 L441.89,10.05 L442.20,10.05 L442.50,10.05 L442.80,10.05 L443.10,10.04 L443.40,10.04 L443.70,10.04 L444.01,10.04 L444.31,10.04 L444.61,10.03 L444.91,10.03 L445.21,10.03 L445.51,10.03 L445.81,10.02 L446.12,10.02 L446.42,10.02 L446.72,10.02 L447.02,10.02 L447.32,10.02 L447.62,10.01 L447.93,10.01 L448.23,10.01 L448.53,10.01 M460.90,9.95 L461.20,9.95 L461.50,9.95 L461.80,9.95 L462.10,9.95 L462.40,9.95 L462.71,9.95 L463.01,9.94 L463.31,9.94 L463.61,9.94 L463.91,9.94 L464.21,9.94 L464.51,9.94 L464.82,9.94 L465.12,9.94 L465.42,9.94 L465.72,9.94 L466.02,9.94 L466.32,9.93 L466.63,9.93 L466.93,9.93 L467.23,9.93 L467.53,9.93 L467.83,9.93 L468.13,9.93 L468.44,9.93 L468.74,9.93 L469.04,9.93 L469.34,9.93 L469.64,9.93 L469.94,9.92 L470.25,9.92 L470.55,9.92 L470.85,9.92 L471.15,9.92 L471.45,9.92 L471.75,9.92 L472.05,9.92 L472.36,9.92" fill="none" stroke="#000" stroke-width="4"/>
<path d="M91.40,9.40 L91.43,9.90 L91.45,10.40 L91.48,10.90 L91.51,11.39 L91.53,11.89 L91.56,12.39 L91.59,12.89 L91.62,13.39 L91.65,13.89 L91.68,14.39 L91.71,14.88 L91.74,15.38 L91.77,15.88 L91.80,16.38 L91.83,16.88 L91.87,17.38 L91.90,17.87 L91.93,18.37 L91.97,18.87 L92.00,19.37 L92.03,19.87 L92.07,20.37 L92.10,20.86 L92.14,21.36 L92.17,21.86 L92.21,22.36 M93.98,43.26 L94.02,43.75 L94.07,44.25 L94.12,44.75 L94.17,45.24 L94.21,45.74 L94.26,46.24 L94.31,46.74 L94.36,47.23 L94.41,47.73 L94.46,48.23 L94.50,48.72 L94.55,49.22 L94.60,49.72 L94.65,50.21 L94.70,50.71 L94.75,51.21 L94.79,51.71 L94.84,52.20 L94.89,52.70 L94.94,53.20 L94.99,53.69 L95.04,54.19 L95.08,54.69 L95.13,55.18 L95.18,55.68 L95.23,56.18 L95.27,56.68 M97.09,77.07 L97.13,77.57 L97.18,78.06 L97.22,78.56 L97.26,79.06 L97.31,79.56 L97.35,80.05 L97.39,80.55 L97.43,81.05 L97.48,81.55 L97.52,82.04 L97.56,82.54 L97.60,83.04 L97.65,83.54 L97.69,84.03 L97.73,84.53 L97.78,85.03 L97.82,85.53 L97.86,86.02 L97.90,86.52 L97.95,87.02 L97.99,87.52 L98.03,88.01 L98.07,88.51 L98.12,89.01 L98.16,89.51 L98.20,90.00 M99.99,109.90 L100.04,110.39 L100.09,110.89 L100.14,111.39 L100.19,111.88 L100.24,112.38 L100.30,112.88 L100.35,113.37 L100.40,113.87 L100.45,114.37 L100.51,114.86 L100.56,115.36 L100.62,115.86 L100.67,116.35 L100.72,116.85 L100.78,117.35 L100.83,117.84 L100.89,118.34 L100.94,118.83 L101.00,119.33 L101.05,119.83 L101.10,120.32 L101.16,120.82 L101.21,121.32 L101.27,121.81 L101.32,122.31 L101.38,122.81 L101.43,123.30 M103.66,143.65 L103.72,144.15 L103.77,144.65 L103.83,145.14 L103.88,145.64 L103.94,146.13 L104.00,146.63 L104.05,147.13 L104.11,147.62 L104.17,148.12 L104.23,148.62 L104.29,149.11 L104.35,149.61 L104.41,150.10 L104.47,150.60 L104.53,151.09 L104.59,151.59 L104.66,152.08 L104.72,152.58 L104.79,153.07 L104.85,153.57 L104.92,154.06 L104.99,154.56 L105.06,155.05 L105.13,155.55 L105.21,156.04 L105.28,156.53 M108.73,177.73 L108.80,178.22 L108.86,178.72 L108.92,179.22 L108.99,179.71 L109.05,180.21 L109.11,180.70 L109.17,181.20 L109.23,181.70 L109.29,182.19 L109.35,182.69 L109.42,183.18 L109.48,183.68 L109.54,184.18 L109.61,184.67 L109.67,185.17 L109.74,185.66 L109.80,186.16 L109.87,186.65 L109.94,187.14 L110.02,187.64 L110.09,188.13 L110.17,188.63 L110.25,189.12 L110.33,189.61 L110.41,190.10 L110.50,190.59 L110.58,191.08 L110.68,191.57 M115.66,211.43 L115.77,211.92 L115.88,212.40 L115.99,212.89 L116.10,213.38 L116.21,213.87 L116.31,214.36 L116.41,214.84 L116.51,215.33 L116.61,215.82 L116.71,216.31 L116.80,216.80 L116.90,217.29 L116.99,217.79 L117.08,218.28 L117.17,218.77 L117.26,219.26 L117.35,219.75 L117.43,220.24 L117.52,220.74 L117.60,221.23 L117.69,221.72 L117.77,222.21 L117.85,222.70 L117.93,223.20 L118.02,223.69 L118.10,224.18 M121.61,243.84 L121.72,244.33 L121.84,244.82 L121.95,245.31 L122.07,245.80 L122.19,246.29 L122.32,246.78 L122.44,247.26 L122.57,247.75 L122.71,248.23 L122.84,248.72 L122.98,249.20 L123.13,249.68 L123.28,250.16 L123.43,250.64 L123.59,251.12 L123.75,251.59 L123.91,252.06 L124.08,252.53 L124.26,253.00 L124.44,253.47 L124.62,253.93 L124.82,254.39 L125.01,254.85 L125.21,255.30 L125.42,255.76 L125.64,256.21 L125.86,256.65 L126.09,257.10 L126.32,257.54 M127.56,259.70 L127.82,260.13 L128.07,260.56 L128.33,260.99 L128.58,261.42 L128.82,261.86 L129.06,262.30 L129.30,262.74 L129.53,263.18 L129.75,263.63 L129.97,264.08 L130.19,264.52 L130.41,264.97 L130.63,265.43 L130.84,265.88 L131.06,266.33 L131.27,266.78 L131.49,267.23 L131.71,267.68 L131.93,268.13 L132.16,268.57 L132.39,269.01 L132.62,269.45 L132.86,269.89 L133.11,270.32 L133.36,270.75 L133.62,271.18 L133.89,271.60 M145.60,281.74 L146.05,281.96 L146.51,282.16 L146.98,282.35 L147.44,282.54 L147.91,282.71 L148.39,282.87 L148.87,283.02 L149.35,283.15 L149.84,283.27 L150.33,283.37 L150.82,283.46 L151.32,283.53 L151.82,283.59 L152.33,283.62 L152.84,283.64 L153.35,283.64 L153.87,283.62 L154.38,283.58 L154.89,283.53 L155.40,283.45 L155.90,283.36 L156.40,283.25 L156.88,283.11 L157.36,282.96 L157.83,282.79 L158.29,282.60 L158.74,282.39 L159.17,282.16 L159.58,281.91 M168.00,270.04 L168.27,269.61 L168.54,269.18 L168.83,268.75 L169.11,268.33 L169.40,267.91 L169.69,267.50 L169.98,267.09 L170.28,266.68 L170.58,266.28 L170.88,265.88 L171.18,265.48 L171.48,265.08 L171.78,264.69 L172.09,264.30 L172.39,263.90 L172.69,263.51 L172.99,263.12 L173.30,262.73 L173.59,262.33 L173.89,261.94 L174.19,261.55 L174.48,261.15 L174.77,260.75 L175.05,260.35 L175.33,259.94 L175.61,259.54 M184.28,242.65 L184.49,242.20 L184.71,241.75 L184.92,241.30 L185.14,240.84 L185.36,240.39 L185.58,239.94 L185.80,239.50 L186.02,239.05 L186.25,238.60 L186.47,238.15 L186.69,237.70 L186.91,237.26 L187.14,236.81 L187.36,236.36 L187.58,235.92 L187.81,235.47 L188.03,235.03 L188.25,234.58 L188.47,234.13 L188.70,233.69 L188.92,233.24 L189.14,232.79 L189.36,232.35 L189.58,231.90 L189.80,231.45 L190.02,231.00 L190.23,230.56 L190.45,230.11 L190.66,229.66 L190.88,229.21 L191.09,228.76 L191.30,228.30 M200.22,208.77 L200.44,208.32 L200.66,207.87 L200.88,207.42 L201.10,206.98 L201.32,206.53 L201.55,206.08 L201.78,205.64 L202.00,205.19 L202.23,204.75 L202.46,204.30 L202.69,203.86 L202.91,203.42 L203.14,202.97 L203.37,202.53 L203.60,202.09 L203.83,201.64 L204.06,201.20 L204.29,200.76 L204.53,200.31 L204.76,199.87 L204.99,199.43 L205.22,198.99 L205.45,198.54 L205.68,198.10 L205.91,197.66 L206.13,197.21 L206.36,196.77 L206.59,196.32 L206.82,195.88 L207.04,195.43 L207.27,194.99 L207.50,194.54 L207.72,194.10 L207.94,193.65 L208.17,193.20 L208.39,192.76 L208.61,192.31 L208.84,191.86 L209.06,191.42 L209.28,190.97 L209.50,190.52 L209.72,190.07 L209.94,189.63 M219.00,170.71 L219.21,170.26 L219.43,169.81 L219.65,169.36 L219.86,168.91 L220.08,168.46 L220.30,168.01 L220.51,167.56 L220.73,167.11 L220.95,166.66 L221.17,166.21 L221.39,165.76 L221.61,165.31 L221.83,164.86 L222.05,164.41 L222.27,163.97 L222.49,163.52 L222.71,163.07 L222.93,162.62 L223.15,162.18 L223.38,161.73 L223.60,161.28 L223.83,160.84 L224.05,160.39 L224.28,159.94 L224.50,159.50 L224.73,159.05 L224.96,158.61 L225.18,158.17 L225.41,157.72 L225.64,157.28 L225.87,156.84 L226.10,156.39 L226.34,155.95 L226.57,155.51 L226.80,155.07 L227.04,154.63 L227.27,154.19 L227.51,153.75 L227.74,153.31 L227.98,152.87 L228.22,152.43 M238.10,135.64 L238.36,135.22 L238.63,134.80 L238.89,134.38 L239.16,133.95 L239.43,133.53 L239.70,133.11 L239.96,132.69 L240.23,132.27 L240.50,131.85 L240.77,131.43 L241.04,131.01 L241.31,130.59 L241.58,130.17 L241.85,129.75 L242.13,129.33 L242.40,128.91 L242.67,128.49 L242.95,128.08 L243.22,127.66 L243.49,127.24 L243.77,126.82 L244.04,126.41 L244.32,125.99 L244.60,125.57 L244.87,125.16 L245.15,124.74 L245.43,124.33 L245.71,123.91 L245.99,123.50 L246.27,123.09 L246.55,122.67 L246.83,122.26 L247.11,121.85 L247.39,121.43 L247.67,121.02 L247.95,120.61 L248.24,120.20 L248.52,119.79 M259.08,105.23 L259.38,104.83 L259.69,104.44 L259.99,104.04 L260.30,103.65 L260.61,103.26 L260.92,102.87 L261.23,102.47 L261.54,102.08 L261.85,101.69 L262.16,101.30 L262.48,100.91 L262.79,100.52 L263.10,100.14 L263.42,99.75 L263.74,99.36 L264.05,98.98 L264.37,98.59 L264.69,98.21 L265.01,97.83 L265.34,97.45 L265.66,97.06 L265.98,96.68 L266.31,96.30 L266.63,95.93 L266.96,95.55 L267.29,95.17 L267.62,94.80 L267.95,94.42 L268.28,94.05 L268.61,93.67 L268.94,93.30 M278.34,83.62 L278.70,83.28 L279.06,82.93 L279.43,82.59 L279.79,82.25 L280.16,81.91 L280.53,81.57 L280.90,81.24 L281.26,80.90 L281.64,80.56 L282.01,80.23 L282.38,79.90 L282.75,79.57 L283.13,79.23 L283.50,78.91 L283.88,78.58 L284.25,78.25 L284.63,77.92 L285.01,77.60 L285.39,77.27 L285.77,76.95 L286.15,76.63 L286.53,76.30 L286.91,75.98 L287.30,75.66 L287.68,75.34 L288.06,75.02 L288.45,74.70 M295.42,69.03 L295.81,68.72 L296.20,68.41 L296.59,68.09 L296.98,67.78 L297.37,67.46 L297.76,67.15 L298.14,66.84 L298.53,66.52 L298.92,66.21 L299.31,65.89 L299.70,65.58 L300.09,65.26 L300.47,64.95 L300.86,64.64 L301.25,64.32 L301.64,64.01 L302.03,63.69 L302.42,63.38 L302.81,63.07 L303.20,62.76 L303.59,62.45 L303.98,62.14 L304.37,61.83 L304.77,61.52 L305.16,61.21 L305.55,60.90 L305.95,60.60 L306.34,60.29 L306.74,59.98 L307.13,59.68 L307.53,59.38 M319.06,51.48 L319.49,51.22 L319.92,50.97 L320.35,50.71 L320.78,50.45 L321.21,50.20 L321.64,49.95 L322.07,49.70 L322.51,49.45 L322.94,49.20 L323.38,48.96 L323.81,48.71 L324.25,48.47 L324.69,48.23 L325.13,47.99 L325.56,47.75 L326.00,47.51 L326.45,47.28 L326.89,47.04 L327.33,46.81 L327.77,46.58 L328.22,46.35 L328.66,46.12 L329.11,45.89 M340.44,40.65 L340.90,40.46 L341.36,40.27 L341.82,40.08 L342.28,39.89 L342.74,39.70 L343.21,39.51 L343.67,39.32 L344.13,39.13 L344.59,38.95 L345.06,38.76 L345.52,38.58 L345.99,38.40 L346.45,38.21 L346.92,38.03 L347.38,37.85 L347.85,37.67 L348.31,37.49 L348.78,37.31 L349.25,37.13 L349.71,36.95 L350.18,36.78 L350.64,36.60 L351.11,36.42 L351.58,36.24 M362.82,32.05 L363.29,31.88 L363.76,31.72 L364.23,31.55 L364.70,31.39 L365.17,31.23 L365.65,31.07 L366.12,30.91 L366.59,30.76 L367.07,30.60 L367.54,30.45 L368.02,30.30 L368.50,30.15 L368.97,30.01 L369.45,29.86 L369.93,29.72 L370.41,29.58 L370.89,29.45 L371.37,29.31 L371.85,29.18 L372.33,29.05 L372.82,28.92 L373.30,28.80 L373.78,28.67 L374.27,28.55 L374.75,28.43 L375.24,28.32 L375.72,28.20 M386.00,26.07 L386.49,25.98 L386.98,25.89 L387.47,25.80 L387.96,25.71 L388.46,25.62 L388.95,25.53 L389.44,25.44 L389.93,25.35 L390.42,25.26 L390.91,25.17 L391.40,25.08 L391.89,24.99 L392.39,24.90 L392.88,24.81 L393.37,24.72 L393.86,24.64 L394.35,24.55 L394.84,24.46 L395.33,24.37 L395.82,24.28 L396.31,24.19 L396.81,24.10 L397.30,24.01 L397.79,23.92 L398.28,23.82 L398.77,23.73 L399.26,23.64 L399.75,23.55 M411.03,21.38 L411.52,21.29 L412.01,21.20 L412.50,21.11 L412.99,21.02 L413.49,20.94 L413.98,20.85 L414.47,20.77 L414.96,20.69 L415.46,20.61 L415.95,20.53 L416.44,20.45 L416.94,20.37 L417.43,20.30 L417.92,20.22 L418.42,20.15 L418.91,20.07 L419.40,20.00 L419.90,19.93 L420.39,19.86 L420.89,19.78 L421.38,19.71 L421.87,19.64 M432.76,18.13 L433.25,18.06 L433.75,17.99 L434.24,17.92 L434.74,17.85 L435.23,17.78 L435.72,17.71 L436.22,17.64 L436.71,17.57 L437.21,17.51 L437.70,17.44 L438.20,17.37 L438.69,17.30 L439.19,17.24 L439.68,17.17 L440.18,17.11 L440.67,17.04 L441.17,16.98 L441.66,16.92 L442.16,16.85 L442.65,16.79 L443.15,16.73 L443.65,16.67 L444.14,16.61 L444.64,16.55 L445.13,16.50 L445.63,16.44 L446.13,16.38 M455.07,15.53 L455.57,15.49 L456.07,15.46 L456.57,15.42 L457.07,15.38 L457.56,15.35 L458.06,15.31 L458.56,15.28 L459.06,15.24 L459.56,15.21 L460.06,15.18 L460.55,15.14 L461.05,15.11 L461.55,15.08 L462.05,15.05 L462.55,15.02 L463.05,14.99 L463.54,14.97 L464.04,14.94 L464.54,14.91 L465.04,14.88 L465.54,14.86 L466.04,14.83 L466.54,14.80 L467.03,14.78 L467.53,14.75 L468.03,14.73 M475.01,14.39 L475.51,14.36 L476.01,14.34 L476.51,14.31 L477.01,14.29 L477.51,14.26 L478.01,14.24 L478.51,14.21 L479.00,14.18 L479.50,14.16 L480.00,14.13 L480.50,14.10" fill="none" stroke="#000" stroke-width="4"/>
<path d="M91.40,9.40 L91.43,9.99 L91.46,10.58 L91.49,11.17 L91.53,11.76 L91.56,12.35 L91.59,12.94 L91.63,13.54 L91.66,14.13 L91.70,14.72 L91.74,15.31 L91.77,15.90 L91.81,16.49 L91.85,17.08 L91.89,17.67 L91.93,18.26 L91.96,18.85 L92.00,19.44 L92.04,20.03 L92.09,20.62 L92.13,21.21 L92.17,21.80 L92.21,22.39 M93.96,43.03 L94.01,43.62 L94.07,44.20 L94.12,44.79 L94.18,45.38 L94.24,45.97 L94.29,46.56 L94.35,47.15 L94.41,47.74 L94.47,48.33 L94.52,48.92 L94.58,49.51 L94.64,50.09 L94.69,50.68 L94.75,51.27 L94.81,51.86 L94.87,52.45 L94.92,53.04 L94.98,53.63 L95.04,54.22 L95.10,54.81 L95.15,55.39 L95.21,55.98 L95.26,56.57 M97.10,77.20 L97.15,77.79 L97.20,78.38 L97.26,78.97 L97.31,79.56 L97.36,80.15 L97.41,80.74 L97.46,81.33 L97.51,81.92 L97.56,82.50 L97.61,83.09 L97.66,83.68 L97.71,84.27 L97.76,84.86 L97.81,85.45 L97.86,86.04 L97.91,86.63 L97.96,87.22 L98.01,87.81 L98.06,88.40 L98.11,88.99 L98.16,89.58 L98.21,90.17 M100.02,110.20 L100.08,110.79 L100.14,111.38 L100.20,111.97 L100.26,112.56 L100.33,113.15 L100.39,113.74 L100.45,114.32 L100.52,114.91 L100.58,115.50 L100.64,116.09 L100.71,116.68 L100.77,117.26 L100.84,117.85 L100.90,118.44 L100.96,119.03 L101.03,119.62 L101.09,120.21 L101.16,120.79 L101.22,121.38 L101.29,121.97 L101.35,122.56 L101.42,123.15 M103.67,143.73 L103.74,144.32 L103.81,144.91 L103.88,145.50 L103.95,146.08 L104.02,146.67 L104.09,147.26 L104.16,147.84 L104.23,148.43 L104.30,149.02 L104.38,149.61 L104.45,150.19 L104.52,150.78 L104.60,151.37 L104.67,151.95 L104.75,152.54 L104.82,153.13 L104.90,153.72 L104.98,154.30 L105.05,154.89 L105.13,155.48 L105.21,156.06 M108.11,175.97 L108.20,176.55 L108.29,177.14 L108.38,177.72 L108.47,178.31 L108.56,178.89 L108.65,179.48 L108.74,180.06 L108.83,180.65 L108.92,181.23 L109.01,181.82 L109.10,182.40 L109.19,182.99 L109.28,183.57 L109.37,184.16 L109.46,184.74 L109.55,185.33 L109.64,185.91 L109.73,186.50 L109.82,187.08 L109.91,187.67 L109.99,188.25 L110.08,188.84 L110.17,189.42 L110.25,190.01 M110.50,191.77 L110.59,192.35 L110.67,192.94 L110.75,193.52 L110.83,194.11 L110.90,194.70 L110.98,195.28 L111.05,195.87 L111.12,196.46 L111.20,197.05 L111.26,197.63 L111.33,198.22 L111.40,198.81 L111.46,199.40 L111.52,199.99 L111.58,200.58 L111.64,201.17 L111.69,201.75 L111.74,202.34 L111.79,202.93 L111.84,203.52 L111.89,204.11 M113.32,225.37 L113.41,225.95 L113.50,226.53 L113.59,227.12 L113.69,227.70 L113.79,228.28 L113.89,228.86 L114.00,229.45 L114.11,230.03 L114.22,230.61 L114.33,231.19 L114.45,231.77 L114.56,232.35 L114.68,232.93 L114.79,233.51 L114.91,234.09 L115.02,234.68 L115.13,235.26 L115.25,235.84 L115.36,236.42 L115.46,237.00 M119.03,258.00 L119.16,258.58 L119.30,259.16 L119.43,259.73 L119.57,260.31 L119.72,260.88 L119.86,261.45 L120.01,262.03 L120.15,262.60 L120.30,263.17 L120.45,263.75 L120.60,264.32 L120.75,264.89 L120.90,265.46 L121.05,266.04 L121.19,266.61 L121.34,267.18 L121.48,267.76 L121.62,268.33 L121.76,268.91 L121.89,269.49 L122.03,270.06 M125.50,291.12 L125.61,291.70 L125.72,292.28 L125.84,292.86 L125.95,293.44 L126.07,294.02 L126.20,294.60 L126.33,295.17 L126.46,295.75 L126.60,296.32 L126.74,296.89 L126.88,297.47 L127.03,298.04 L127.19,298.60 L127.35,299.17 L127.52,299.74 L127.69,300.30 L127.87,300.86 L128.06,301.43 L128.24,301.99 L128.43,302.55 L128.63,303.11 L128.83,303.66 L129.02,304.22 L129.22,304.78 L129.42,305.34 L129.62,305.90 L129.82,306.45 L130.02,307.01 L130.21,307.57 L130.40,308.13 L130.59,308.69 L130.78,309.26 L130.96,309.82 L131.13,310.38 M135.19,328.87 L135.36,329.44 L135.52,330.01 L135.70,330.57 L135.88,331.13 L136.07,331.69 L136.27,332.25 L136.46,332.80 L136.67,333.36 L136.88,333.91 L137.09,334.46 L137.31,335.01 L137.54,335.56 L137.76,336.11 L137.99,336.65 L138.23,337.20 L138.47,337.74 L138.71,338.28 L138.95,338.83 L139.20,339.37 L139.45,339.91 L139.70,340.44 L139.95,340.98 L140.21,341.52 L140.46,342.06 M146.03,353.17 L146.31,353.69 L146.60,354.20 L146.88,354.72 L147.17,355.24 L147.46,355.75 L147.75,356.26 L148.05,356.78 L148.34,357.29 L148.64,357.80 L148.94,358.30 L149.25,358.81 L149.56,359.32 L149.87,359.82 L150.18,360.32 L150.50,360.82 L150.82,361.32 L151.14,361.82 L151.46,362.32 L151.79,362.82 L152.12,363.31 L152.46,363.80 L152.80,364.30 M164.79,374.39 L165.37,374.49 L165.96,374.56 L166.56,374.59 L167.15,374.60 L167.74,374.57 L168.33,374.52 L168.92,374.44 L169.51,374.34 L170.09,374.22 L170.66,374.09 L171.24,373.93 L171.81,373.77 L172.37,373.59 L172.93,373.40 L173.49,373.20 L174.04,372.99 L174.59,372.76 L175.14,372.53 L175.68,372.29 L176.22,372.03 L176.75,371.77 L177.27,371.49 L177.78,371.19 L178.29,370.88 L178.77,370.55 M186.63,361.70 L186.99,361.22 L187.37,360.75 L187.74,360.28 L188.12,359.82 L188.50,359.36 L188.88,358.90 L189.26,358.44 L189.64,357.99 L190.02,357.53 L190.41,357.08 L190.79,356.63 L191.17,356.17 L191.55,355.72 L191.93,355.27 L192.30,354.81 L192.67,354.35 L193.04,353.90 L193.41,353.44 L193.77,352.97 L194.12,352.51 L194.48,352.04 L194.82,351.56 L195.16,351.09 M203.49,335.42 L203.75,334.89 L204.02,334.36 L204.29,333.83 L204.56,333.30 L204.83,332.77 L205.10,332.24 L205.37,331.72 L205.65,331.19 L205.92,330.67 L206.20,330.14 L206.48,329.62 L206.76,329.10 L207.03,328.57 L207.31,328.05 L207.59,327.53 L207.87,327.01 L208.14,326.49 L208.42,325.96 L208.70,325.44 L208.97,324.92 L209.25,324.39 L209.52,323.87 L209.79,323.35 L210.06,322.82 L210.33,322.29 L210.59,321.77 L210.86,321.24 L211.12,320.71 L211.38,320.18 L211.64,319.65 M218.90,302.17 L219.11,301.61 L219.33,301.06 L219.55,300.51 L219.76,299.96 L219.98,299.41 L220.20,298.86 L220.42,298.31 L220.64,297.76 L220.86,297.21 L221.08,296.66 L221.30,296.11 L221.52,295.56 L221.74,295.02 L221.97,294.47 L222.19,293.92 L222.41,293.37 L222.63,292.82 L222.85,292.27 L223.08,291.72 L223.30,291.18 L223.52,290.63 L223.74,290.08 L223.97,289.53 L224.19,288.98 L224.41,288.43 L224.63,287.89 L224.85,287.34 L225.08,286.79 L225.30,286.24 L225.52,285.69 L225.74,285.15 L225.96,284.60 L226.18,284.05 L226.41,283.50 L226.63,282.95 L226.85,282.40 L227.07,281.85 L227.29,281.30 L227.51,280.76 L227.72,280.21 L227.94,279.66 L228.16,279.11 L228.38,278.56 M235.85,259.24 L236.06,258.69 L236.28,258.14 L236.49,257.59 L236.71,257.04 L236.92,256.49 L237.14,255.94 L237.36,255.38 L237.57,254.83 L237.79,254.28 L238.01,253.73 L238.23,253.18 L238.44,252.63 L238.66,252.08 L238.88,251.53 L239.10,250.98 L239.31,250.43 L239.53,249.88 L239.75,249.33 L239.97,248.78 L240.19,248.23 L240.40,247.68 L240.62,247.13 L240.84,246.58 L241.06,246.03 L241.27,245.48 L241.49,244.93 L241.71,244.38 L241.93,243.83 L242.14,243.28 L242.36,242.73 L242.57,242.18 L242.79,241.63 L243.01,241.08 L243.22,240.53 L243.44,239.98 L243.65,239.42 L243.86,238.87 L244.08,238.32 L244.29,237.77 L244.50,237.22 L244.71,236.66 L244.93,236.11 L245.14,235.56 L245.35,235.00 L245.56,234.45 L245.77,233.90 L245.97,233.34 L246.18,232.79 L246.39,232.23 L246.60,231.68 L246.80,231.12 M253.84,212.27 L254.06,211.72 L254.28,211.18 L254.51,210.63 L254.74,210.09 L254.97,209.54 L255.20,209.00 L255.44,208.46 L255.67,207.91 L255.91,207.37 L256.15,206.83 L256.39,206.29 L256.64,205.76 L256.88,205.22 L257.13,204.68 L257.38,204.14 L257.63,203.61 L257.88,203.07 L258.13,202.54 L258.39,202.00 L258.64,201.47 L258.90,200.94 L259.16,200.41 M259.67,199.34 L259.94,198.81 L260.20,198.28 L260.46,197.75 L260.72,197.22 L260.98,196.69 L261.25,196.16 L261.51,195.63 L261.77,195.10 L262.04,194.57 L262.30,194.04 L262.56,193.51 L262.83,192.98 L263.09,192.45 L263.36,191.92 L263.62,191.39 L263.88,190.85 L264.15,190.32 L264.41,189.79 L264.67,189.26 L264.93,188.73 L265.19,188.20 L265.45,187.67 L265.71,187.14 L265.97,186.60 M274.41,168.34 L274.65,167.80 L274.90,167.27 L275.15,166.73 L275.41,166.19 L275.66,165.66 L275.91,165.12 L276.16,164.59 L276.41,164.05 L276.67,163.52 L276.92,162.99 L277.18,162.45 L277.43,161.92 L277.69,161.38 L277.95,160.85 L278.20,160.32 L278.46,159.79 L278.72,159.25 L278.98,158.72 L279.24,158.19 L279.50,157.66 L279.76,157.13 L280.02,156.60 L280.28,156.07 L280.55,155.54 L280.81,155.01 L281.07,154.48 L281.34,153.95 L281.60,153.42 L281.87,152.89 L282.13,152.36 L282.40,151.83 L282.67,151.30 L282.94,150.78 L283.20,150.25 L283.47,149.72 L283.74,149.19 L284.01,148.67 L284.28,148.14 M294.46,129.43 L294.76,128.92 L295.06,128.41 L295.35,127.90 L295.66,127.39 L295.96,126.88 L296.26,126.37 L296.56,125.86 L296.87,125.35 L297.17,124.85 L297.48,124.34 L297.79,123.84 L298.10,123.33 L298.41,122.83 L298.72,122.32 L299.04,121.82 L299.35,121.32 L299.67,120.82 L299.98,120.32 L300.30,119.82 L300.62,119.33 L300.94,118.83 L301.27,118.33 L301.59,117.84 L301.92,117.34 L302.25,116.85 L302.58,116.36 L302.91,115.87 L303.24,115.38 M314.79,100.39 L315.18,99.94 L315.57,99.50 L315.96,99.05 L316.35,98.61 L316.74,98.16 L317.13,97.72 L317.53,97.28 L317.93,96.84 L318.32,96.40 L318.72,95.97 L319.12,95.53 L319.52,95.09 L319.92,94.66 L320.32,94.22 L320.73,93.79 L321.13,93.36 L321.53,92.92 L321.94,92.49 L322.34,92.06 L322.75,91.63 L323.16,91.20 L323.56,90.77 M333.45,80.56 L333.87,80.15 L334.29,79.73 L334.71,79.31 L335.14,78.90 L335.56,78.49 L335.98,78.08 L336.41,77.67 L336.84,77.26 L337.27,76.85 L337.70,76.44 L338.13,76.04 L338.56,75.63 L338.99,75.23 L339.43,74.83 L339.87,74.43 L340.30,74.03 L340.74,73.64 L341.19,73.25 L341.63,72.85 L342.07,72.46 L342.52,72.07 L342.97,71.69 L343.42,71.30 L343.87,70.92 L344.32,70.54 M352.72,63.97 L353.20,63.63 L353.68,63.28 L354.16,62.94 L354.64,62.60 L355.13,62.26 L355.62,61.92 L356.10,61.58 L356.59,61.25 L357.08,60.92 L357.57,60.59 L358.06,60.26 L358.56,59.93 L359.05,59.61 L359.55,59.29 L360.04,58.96 L360.54,58.64 L361.04,58.33 L361.54,58.01 L362.04,57.69 L362.54,57.38 L363.04,57.07 M375.85,49.64 L376.37,49.36 L376.90,49.08 L377.42,48.81 L377.95,48.53 L378.47,48.26 L379.00,47.99 L379.53,47.73 L380.06,47.46 L380.59,47.20 L381.12,46.94 L381.65,46.69 L382.19,46.43 L382.72,46.18 L383.26,45.93 L383.80,45.69 L384.34,45.45 L384.88,45.21 L385.42,44.97 M395.90,40.90 L396.45,40.69 L397.00,40.49 L397.56,40.28 L398.11,40.07 L398.67,39.86 L399.22,39.65 L399.77,39.43 L400.32,39.22 L400.88,39.00 L401.43,38.78 L401.98,38.57 L402.53,38.35 L403.08,38.13 L403.63,37.91 L404.17,37.68 L404.72,37.46 L405.27,37.24 L405.82,37.02 L406.37,36.80 L406.92,36.58 L407.47,36.36 L408.02,36.14 M418.61,32.41 L419.18,32.24 L419.75,32.08 L420.32,31.91 L420.89,31.75 L421.46,31.59 L422.03,31.43 L422.60,31.27 L423.17,31.11 L423.74,30.96 L424.31,30.81 L424.88,30.66 L425.46,30.51 L426.03,30.36 L426.60,30.21 L427.18,30.06 L427.75,29.92 L428.33,29.77 L428.90,29.63 L429.47,29.48 L430.05,29.34 L430.62,29.19 L431.20,29.05 M442.69,26.24 L443.27,26.10 L443.84,25.97 L444.42,25.83 L444.99,25.69 L445.57,25.55 L446.14,25.41 L446.72,25.28 L447.30,25.14 L447.87,25.01 L448.45,24.87 L449.03,24.74 L449.60,24.60 L450.18,24.47 L450.76,24.34 L451.33,24.21 L451.91,24.08 L452.49,23.96 L453.07,23.83 L453.65,23.71 L454.23,23.59 L454.81,23.47 L455.39,23.35 L455.97,23.24 M464.13,21.87 L464.72,21.78 L465.30,21.70 L465.89,21.61 L466.48,21.53 L467.06,21.45 L467.65,21.37 L468.23,21.28 L468.82,21.20 L469.41,21.12 L469.99,21.04 L470.58,20.95 L471.16,20.87 L471.75,20.78 L472.34,20.70 L472.92,20.61 L473.51,20.52 L474.09,20.43 L474.68,20.34 L475.26,20.25 L475.84,20.15 L476.43,20.06 L477.01,19.96 L477.59,19.85" fill="none" stroke="#000" stroke-width="4"/>
<path d="M390.7,267.2H452.5" stroke="#ff0000" stroke-width="1.5"/>
<path d="M418.0,263.59999999999997h7.2v7.2h-7.2z" fill="none" stroke="#ff0000" stroke-width="1.7"/>
<path d="M390.7,295.2H452.5" stroke="#00ff00" stroke-width="1.5"/>
<circle cx="421.6" cy="295.2" r="3.4" fill="none" stroke="#00ff00" stroke-width="1.7"/>
<path d="M390.7,323.0H452.5" stroke="#0000ff" stroke-width="1.5"/>
<path d="M421.6,318.96l3.5,6.06h-7z" fill="none" stroke="#0000ff" stroke-width="1.7"/>
<path d="M390.7,350.9H452.5" stroke="#ae6ef5" stroke-width="1.5"/>
<path d="M421.6,354.94l3.5,-6.06h-7z" fill="none" stroke="#ae6ef5" stroke-width="1.7"/>
<path d="M390.7,378.6H452.5" stroke="#000" stroke-width="4" stroke-dasharray="13.7 20.1"/>
<g font-family="'Liberation Serif', serif" font-size="22" fill="#000">
<text x="77.2" y="15.4" text-anchor="end">1</text>
<text x="48.6" y="71.0" textLength="28.4" lengthAdjust="spacing">0.9</text>
<text x="48.6" y="126.5" textLength="28.4" lengthAdjust="spacing">0.8</text>
<text x="48.6" y="182.1" textLength="28.4" lengthAdjust="spacing">0.7</text>
<text x="48.6" y="237.6" textLength="28.4" lengthAdjust="spacing">0.6</text>
<text x="48.6" y="293.2" textLength="28.4" lengthAdjust="spacing">0.5</text>
<text x="48.6" y="348.7" textLength="28.4" lengthAdjust="spacing">0.4</text>
<text x="48.6" y="404.3" textLength="28.4" lengthAdjust="spacing">0.3</text>
<text x="142.5" y="427.8" text-anchor="middle">1</text>
<text x="311.6" y="427.8" text-anchor="middle">10</text>
<text x="480.7" y="427.8" text-anchor="middle">100</text>
<text x="246.7" y="462.4" font-style="italic" font-size="22.5" textLength="10.6" lengthAdjust="spacingAndGlyphs">τ</text>
<path d="M272.3,444.8H268.6V467.3H272.3" fill="none" stroke="#000" stroke-width="1"/>
<text x="272.6" y="462.4" textLength="25.2" lengthAdjust="spacing">fm</text>
<path d="M299.3,467.4L308.2,444.8" stroke="#000" stroke-width="1" fill="none"/>
<text x="310.3" y="462.4" font-style="italic">c</text>
<path d="M319.3,444.8H323.0V467.3H319.3" fill="none" stroke="#000" stroke-width="1"/>
<g transform="translate(19.1,235.6) rotate(-90)">
<text x="0" y="0" font-style="italic" font-size="23.5" textLength="14.9" lengthAdjust="spacingAndGlyphs">P</text>
<text x="14.6" y="3.4" font-style="italic" font-size="15.6">L</text>
<path d="M26.9,5.4L35.6,-17.2" stroke="#000" stroke-width="1" fill="none"/>
<text x="38.2" y="0" font-style="italic" font-size="23.5" textLength="14.9" lengthAdjust="spacingAndGlyphs">P</text>
<text x="52.0" y="3.4" font-style="italic" font-size="15.6">T</text>
</g>
<path d="M118.0,367.3Q107.2,379.05 118.0,390.8Q109.8,379.05 118.0,367.3Z" fill="#000" stroke="#000" stroke-width="0.35"/>
<text x="120.0" y="385.2" textLength="21.8" lengthAdjust="spacing">a2</text>
<path d="M143.4,367.3Q153.8,379.05 143.4,390.8Q151.2,379.05 143.4,367.3Z" fill="#000" stroke="#000" stroke-width="0.35"/>
<text x="324.3" y="209.8" font-style="italic" font-size="22.5" textLength="10.6" lengthAdjust="spacingAndGlyphs">τ</text>
<text x="335.6" y="213.20000000000002" font-size="15.6" textLength="12.6" lengthAdjust="spacingAndGlyphs">Π</text>
<text x="354.4" y="209.8" textLength="15.4" lengthAdjust="spacingAndGlyphs">=</text>
<text x="376.9" y="209.8" textLength="28.4" lengthAdjust="spacing">0.5</text>
<text x="415.4" y="209.8" textLength="24.2" lengthAdjust="spacing">fm</text>
<path d="M440.4,214.6L449.1,193.4" stroke="#000" stroke-width="1" fill="none"/>
<text x="452.4" y="209.8" font-style="italic">c</text>
<text x="297.6" y="273.2" font-style="italic" font-size="23" textLength="14.6" lengthAdjust="spacingAndGlyphs">A</text>
<text x="319.6" y="273.2" textLength="15.4" lengthAdjust="spacingAndGlyphs">=</text>
<text x="376.3" y="273.2" text-anchor="end">100</text>
<text x="376.3" y="300.8" text-anchor="end">10</text>
<text x="303.8" y="328.6">1</text>
<path d="M329.2,310.7Q318.4,322.45 329.2,334.2Q321.0,322.45 329.2,310.7Z" fill="#000" stroke="#000" stroke-width="0.35"/>
<text x="330.7" y="328.6" textLength="17.4" lengthAdjust="spacingAndGlyphs">A</text>
<text x="347.9" y="328.6" textLength="21.6" lengthAdjust="spacingAndGlyphs">W</text>
<path d="M370.0,310.7Q380.4,322.45 370.0,334.2Q377.8,322.45 370.0,310.7Z" fill="#000" stroke="#000" stroke-width="0.35"/>
<text x="347.9" y="356.6" textLength="28.4" lengthAdjust="spacing">0.5</text>
<text x="315.8" y="384.6" textLength="60.4" lengthAdjust="spacing">Hydro</text>
</g>
</svg>
</body></html>
